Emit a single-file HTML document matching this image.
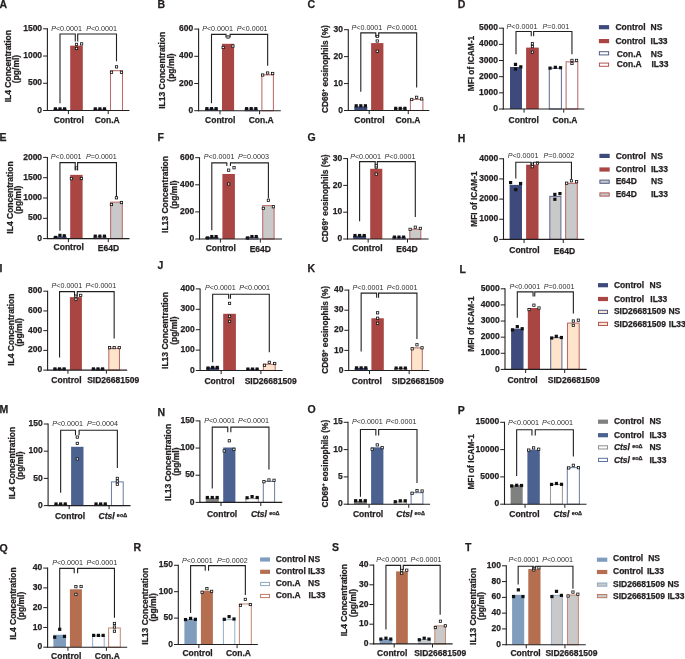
<!DOCTYPE html>
<html><head><meta charset="utf-8"><style>
html,body{margin:0;padding:0;background:#fff;}
svg{display:block;will-change:transform;}
text{font-family:"Liberation Sans", sans-serif;}
text.b{stroke:#231f20;stroke-width:0.25px;}
</style></head><body>
<svg width="685" height="659" viewBox="0 0 685 659">
<rect width="685" height="659" fill="#fff"/>
<text class="b" x="-0.60" y="7.60" text-anchor="start" fill="#231f20" style="font-size:10.5px;font-weight:bold;" >A</text>
<rect x="53.40" y="108.87" width="13.20" height="1.63" fill="#3d4a7b"/>
<rect x="70.20" y="45.68" width="12.60" height="64.82" fill="#a94643"/>
<rect x="93.90" y="109.37" width="12.00" height="1.13" fill="#fff" stroke="#646e95" stroke-width="1.05"/>
<rect x="110.50" y="70.69" width="12.00" height="39.81" fill="#fff" stroke="#ba6b69" stroke-width="1.05"/>
<rect x="53.80" y="107.27" width="3.2" height="3.2" fill="#111"/>
<rect x="58.40" y="107.27" width="3.2" height="3.2" fill="#111"/>
<rect x="63.00" y="107.27" width="3.2" height="3.2" fill="#111"/>
<rect x="75.35" y="47.31" width="2.3" height="2.3" fill="#fff" stroke="#111" stroke-width="0.8"/>
<rect x="75.35" y="43.23" width="2.3" height="2.3" fill="#fff" stroke="#111" stroke-width="0.8"/>
<rect x="80.45" y="42.74" width="2.3" height="2.3" fill="#fff" stroke="#111" stroke-width="0.8"/>
<rect x="93.70" y="107.27" width="3.2" height="3.2" fill="#111"/>
<rect x="98.30" y="107.27" width="3.2" height="3.2" fill="#111"/>
<rect x="102.90" y="107.27" width="3.2" height="3.2" fill="#111"/>
<rect x="110.35" y="71.11" width="2.3" height="2.3" fill="#fff" stroke="#111" stroke-width="0.8"/>
<rect x="115.35" y="65.72" width="2.3" height="2.3" fill="#fff" stroke="#111" stroke-width="0.8"/>
<rect x="120.35" y="71.11" width="2.3" height="2.3" fill="#fff" stroke="#111" stroke-width="0.8"/>
<line x1="47.40" y1="28.30" x2="47.40" y2="111.00" stroke="#231f20" stroke-width="1.1"/>
<line x1="46.90" y1="110.50" x2="129.50" y2="110.50" stroke="#231f20" stroke-width="1.1"/>
<line x1="43.10" y1="110.50" x2="47.40" y2="110.50" stroke="#231f20" stroke-width="1.0"/>
<text class="b" x="42.10" y="112.60" text-anchor="end" fill="#231f20" style="font-size:8.5px;font-weight:bold;" >0</text>
<line x1="43.10" y1="83.27" x2="47.40" y2="83.27" stroke="#231f20" stroke-width="1.0"/>
<text class="b" x="42.10" y="85.37" text-anchor="end" fill="#231f20" style="font-size:8.5px;font-weight:bold;" >500</text>
<line x1="43.10" y1="56.03" x2="47.40" y2="56.03" stroke="#231f20" stroke-width="1.0"/>
<text class="b" x="42.10" y="58.13" text-anchor="end" fill="#231f20" style="font-size:8.5px;font-weight:bold;" >1000</text>
<line x1="43.10" y1="28.80" x2="47.40" y2="28.80" stroke="#231f20" stroke-width="1.0"/>
<text class="b" x="42.10" y="30.90" text-anchor="end" fill="#231f20" style="font-size:8.5px;font-weight:bold;" >1500</text>
<line x1="68.40" y1="110.50" x2="68.40" y2="114.10" stroke="#231f20" stroke-width="1.0"/>
<line x1="108.20" y1="110.50" x2="108.20" y2="114.10" stroke="#231f20" stroke-width="1.0"/>
<text class="b" x="68.80" y="122.60" text-anchor="middle" fill="#231f20" style="font-size:8.5px;font-weight:bold;" >Control</text>
<text class="b" x="107.20" y="122.60" text-anchor="middle" fill="#231f20" style="font-size:8.5px;font-weight:bold;" >Con.A</text>
<text class="b" transform="translate(10.90,66.20) rotate(-90)" text-anchor="middle" fill="#231f20" style="font-size:8.5px;font-weight:bold">IL4 Concentration</text>
<text class="b" transform="translate(19.10,69.00) rotate(-90)" text-anchor="middle" fill="#231f20" style="font-size:8.5px;font-weight:bold">(pg/ml)</text>
<polyline points="60.00,103.37 60.00,34.00 75.30,34.00 75.30,41.40" fill="none" stroke="#231f20" stroke-width="1.1"/>
<polyline points="77.70,41.40 77.70,34.00 116.50,34.00 116.50,61.37" fill="none" stroke="#231f20" stroke-width="1.1"/>
<text x="51.20" y="30.50" fill="#2e2e2e" style="font-size:7.15px;font-weight:normal" letter-spacing="0"><tspan style="font-style:italic">P</tspan>&lt;0.0001</text>
<text x="86.20" y="30.50" fill="#2e2e2e" style="font-size:7.15px;font-weight:normal" letter-spacing="0"><tspan style="font-style:italic">P</tspan>&lt;0.0001</text>
<text class="b" x="157.60" y="7.60" text-anchor="start" fill="#231f20" style="font-size:10.5px;font-weight:bold;" >B</text>
<rect x="205.00" y="108.66" width="13.00" height="2.04" fill="#3d4a7b"/>
<rect x="222.00" y="43.79" width="12.10" height="66.91" fill="#a94643"/>
<rect x="245.10" y="109.16" width="12.20" height="1.54" fill="#fff" stroke="#646e95" stroke-width="1.05"/>
<rect x="261.90" y="74.89" width="11.50" height="35.81" fill="#fff" stroke="#ba6b69" stroke-width="1.05"/>
<rect x="205.30" y="107.06" width="3.2" height="3.2" fill="#111"/>
<rect x="209.90" y="107.06" width="3.2" height="3.2" fill="#111"/>
<rect x="214.50" y="107.06" width="3.2" height="3.2" fill="#111"/>
<rect x="222.00" y="46.31" width="2.3" height="2.3" fill="#fff" stroke="#111" stroke-width="0.8"/>
<rect x="226.90" y="35.84" width="2.3" height="2.3" fill="#fff" stroke="#111" stroke-width="0.8"/>
<rect x="231.75" y="44.95" width="2.3" height="2.3" fill="#fff" stroke="#111" stroke-width="0.8"/>
<rect x="245.00" y="107.06" width="3.2" height="3.2" fill="#111"/>
<rect x="249.60" y="107.06" width="3.2" height="3.2" fill="#111"/>
<rect x="254.20" y="107.06" width="3.2" height="3.2" fill="#111"/>
<rect x="261.50" y="73.85" width="2.3" height="2.3" fill="#fff" stroke="#111" stroke-width="0.8"/>
<rect x="266.50" y="71.88" width="2.3" height="2.3" fill="#fff" stroke="#111" stroke-width="0.8"/>
<rect x="271.50" y="72.35" width="2.3" height="2.3" fill="#fff" stroke="#111" stroke-width="0.8"/>
<line x1="198.60" y1="28.60" x2="198.60" y2="111.20" stroke="#231f20" stroke-width="1.1"/>
<line x1="198.10" y1="110.70" x2="280.80" y2="110.70" stroke="#231f20" stroke-width="1.1"/>
<line x1="194.30" y1="110.70" x2="198.60" y2="110.70" stroke="#231f20" stroke-width="1.0"/>
<text class="b" x="193.30" y="112.80" text-anchor="end" fill="#231f20" style="font-size:8.5px;font-weight:bold;" >0</text>
<line x1="194.30" y1="83.50" x2="198.60" y2="83.50" stroke="#231f20" stroke-width="1.0"/>
<text class="b" x="193.30" y="85.60" text-anchor="end" fill="#231f20" style="font-size:8.5px;font-weight:bold;" >200</text>
<line x1="194.30" y1="56.30" x2="198.60" y2="56.30" stroke="#231f20" stroke-width="1.0"/>
<text class="b" x="193.30" y="58.40" text-anchor="end" fill="#231f20" style="font-size:8.5px;font-weight:bold;" >400</text>
<line x1="194.30" y1="29.10" x2="198.60" y2="29.10" stroke="#231f20" stroke-width="1.0"/>
<text class="b" x="193.30" y="31.20" text-anchor="end" fill="#231f20" style="font-size:8.5px;font-weight:bold;" >600</text>
<line x1="220.00" y1="110.70" x2="220.00" y2="114.30" stroke="#231f20" stroke-width="1.0"/>
<line x1="259.60" y1="110.70" x2="259.60" y2="114.30" stroke="#231f20" stroke-width="1.0"/>
<text class="b" x="220.20" y="122.60" text-anchor="middle" fill="#231f20" style="font-size:8.5px;font-weight:bold;" >Control</text>
<text class="b" x="261.20" y="122.60" text-anchor="middle" fill="#231f20" style="font-size:8.5px;font-weight:bold;" >Con.A</text>
<text class="b" transform="translate(165.40,70.30) rotate(-90)" text-anchor="middle" fill="#231f20" style="font-size:8.5px;font-weight:bold">IL13 Concentration</text>
<text class="b" transform="translate(173.50,67.50) rotate(-90)" text-anchor="middle" fill="#231f20" style="font-size:8.5px;font-weight:bold">(pg/ml)</text>
<polyline points="211.50,103.16 211.50,34.40 226.00,34.40 226.00,37.60" fill="none" stroke="#231f20" stroke-width="1.1"/>
<polyline points="230.10,37.60 230.10,34.40 267.65,34.40 267.65,65.63" fill="none" stroke="#231f20" stroke-width="1.1"/>
<text x="202.20" y="30.50" fill="#2e2e2e" style="font-size:7.15px;font-weight:normal" letter-spacing="0"><tspan style="font-style:italic">P</tspan>&lt;0.0001</text>
<text x="236.80" y="30.50" fill="#2e2e2e" style="font-size:7.15px;font-weight:normal" letter-spacing="0"><tspan style="font-style:italic">P</tspan>&lt;0.0001</text>
<text class="b" x="307.60" y="7.60" text-anchor="start" fill="#231f20" style="font-size:10.5px;font-weight:bold;" >C</text>
<rect x="354.30" y="106.46" width="13.00" height="4.04" fill="#3d4a7b"/>
<rect x="371.10" y="43.09" width="12.30" height="67.41" fill="#a94643"/>
<rect x="394.50" y="108.85" width="11.60" height="1.65" fill="#fff" stroke="#646e95" stroke-width="1.05"/>
<rect x="410.40" y="99.42" width="12.50" height="11.08" fill="#fff" stroke="#ba6b69" stroke-width="1.05"/>
<rect x="354.60" y="104.19" width="3.2" height="3.2" fill="#111"/>
<rect x="359.20" y="104.19" width="3.2" height="3.2" fill="#111"/>
<rect x="363.80" y="104.19" width="3.2" height="3.2" fill="#111"/>
<rect x="376.10" y="50.10" width="2.3" height="2.3" fill="#fff" stroke="#111" stroke-width="0.8"/>
<rect x="376.10" y="39.86" width="2.3" height="2.3" fill="#fff" stroke="#111" stroke-width="0.8"/>
<rect x="376.10" y="35.28" width="2.3" height="2.3" fill="#fff" stroke="#111" stroke-width="0.8"/>
<rect x="394.10" y="106.75" width="3.2" height="3.2" fill="#111"/>
<rect x="398.70" y="106.75" width="3.2" height="3.2" fill="#111"/>
<rect x="403.30" y="106.75" width="3.2" height="3.2" fill="#111"/>
<rect x="410.60" y="98.31" width="2.3" height="2.3" fill="#fff" stroke="#111" stroke-width="0.8"/>
<rect x="415.50" y="96.15" width="2.3" height="2.3" fill="#fff" stroke="#111" stroke-width="0.8"/>
<rect x="420.50" y="97.77" width="2.3" height="2.3" fill="#fff" stroke="#111" stroke-width="0.8"/>
<line x1="348.30" y1="29.20" x2="348.30" y2="111.00" stroke="#231f20" stroke-width="1.1"/>
<line x1="347.80" y1="110.50" x2="429.30" y2="110.50" stroke="#231f20" stroke-width="1.1"/>
<line x1="344.00" y1="110.50" x2="348.30" y2="110.50" stroke="#231f20" stroke-width="1.0"/>
<text class="b" x="343.00" y="112.60" text-anchor="end" fill="#231f20" style="font-size:8.5px;font-weight:bold;" >0</text>
<line x1="344.00" y1="83.57" x2="348.30" y2="83.57" stroke="#231f20" stroke-width="1.0"/>
<text class="b" x="343.00" y="85.67" text-anchor="end" fill="#231f20" style="font-size:8.5px;font-weight:bold;" >10</text>
<line x1="344.00" y1="56.63" x2="348.30" y2="56.63" stroke="#231f20" stroke-width="1.0"/>
<text class="b" x="343.00" y="58.73" text-anchor="end" fill="#231f20" style="font-size:8.5px;font-weight:bold;" >20</text>
<line x1="344.00" y1="29.70" x2="348.30" y2="29.70" stroke="#231f20" stroke-width="1.0"/>
<text class="b" x="343.00" y="31.80" text-anchor="end" fill="#231f20" style="font-size:8.5px;font-weight:bold;" >30</text>
<line x1="369.20" y1="110.50" x2="369.20" y2="114.10" stroke="#231f20" stroke-width="1.0"/>
<line x1="408.25" y1="110.50" x2="408.25" y2="114.10" stroke="#231f20" stroke-width="1.0"/>
<text class="b" x="369.40" y="122.60" text-anchor="middle" fill="#231f20" style="font-size:8.5px;font-weight:bold;" >Control</text>
<text class="b" x="408.00" y="122.60" text-anchor="middle" fill="#231f20" style="font-size:8.5px;font-weight:bold;" >Con.A</text>
<text class="b" transform="translate(327.90,69.10) rotate(-90)" text-anchor="middle" fill="#231f20" style="font-size:8.3px;font-weight:bold">CD69<tspan dy="-3" style="font-size:5px">+</tspan><tspan dy="3"> eosinophils (%)</tspan></text>
<polyline points="360.80,91.79 360.80,32.90 375.80,32.90 375.80,37.10" fill="none" stroke="#231f20" stroke-width="1.1"/>
<polyline points="378.70,37.10 378.70,32.90 416.65,32.90 416.65,87.60" fill="none" stroke="#231f20" stroke-width="1.1"/>
<text x="351.50" y="29.50" fill="#2e2e2e" style="font-size:7.15px;font-weight:normal" letter-spacing="0"><tspan style="font-style:italic">P</tspan>&lt;0.0001</text>
<text x="386.80" y="29.50" fill="#2e2e2e" style="font-size:7.15px;font-weight:normal" letter-spacing="0"><tspan style="font-style:italic">P</tspan>&lt;0.0001</text>
<text class="b" x="457.80" y="7.60" text-anchor="start" fill="#231f20" style="font-size:10.5px;font-weight:bold;" >D</text>
<rect x="510.00" y="66.98" width="12.00" height="42.02" fill="#3d4a7b"/>
<rect x="526.10" y="47.59" width="12.70" height="61.41" fill="#a94643"/>
<rect x="549.30" y="68.29" width="12.10" height="40.71" fill="#fff" stroke="#646e95" stroke-width="1.05"/>
<rect x="566.10" y="61.83" width="11.70" height="47.17" fill="#fff" stroke="#ba6b69" stroke-width="1.05"/>
<rect x="513.90" y="62.80" width="3.2" height="3.2" fill="#111"/>
<rect x="513.90" y="67.48" width="3.2" height="3.2" fill="#111"/>
<rect x="519.20" y="65.22" width="3.2" height="3.2" fill="#111"/>
<rect x="531.30" y="51.05" width="2.3" height="2.3" fill="#fff" stroke="#111" stroke-width="0.8"/>
<rect x="531.30" y="45.46" width="2.3" height="2.3" fill="#fff" stroke="#111" stroke-width="0.8"/>
<rect x="531.30" y="42.55" width="2.3" height="2.3" fill="#fff" stroke="#111" stroke-width="0.8"/>
<rect x="548.45" y="66.52" width="3.2" height="3.2" fill="#111"/>
<rect x="553.75" y="65.71" width="3.2" height="3.2" fill="#111"/>
<rect x="558.95" y="66.11" width="3.2" height="3.2" fill="#111"/>
<rect x="570.80" y="62.34" width="2.3" height="2.3" fill="#fff" stroke="#111" stroke-width="0.8"/>
<rect x="570.80" y="59.26" width="2.3" height="2.3" fill="#fff" stroke="#111" stroke-width="0.8"/>
<rect x="575.40" y="59.26" width="2.3" height="2.3" fill="#fff" stroke="#111" stroke-width="0.8"/>
<line x1="503.30" y1="27.70" x2="503.30" y2="109.50" stroke="#231f20" stroke-width="1.1"/>
<line x1="502.80" y1="109.00" x2="584.30" y2="109.00" stroke="#231f20" stroke-width="1.1"/>
<line x1="499.00" y1="109.00" x2="503.30" y2="109.00" stroke="#231f20" stroke-width="1.0"/>
<text class="b" x="498.00" y="111.10" text-anchor="end" fill="#231f20" style="font-size:8.5px;font-weight:bold;" >0</text>
<line x1="499.00" y1="92.84" x2="503.30" y2="92.84" stroke="#231f20" stroke-width="1.0"/>
<text class="b" x="498.00" y="94.94" text-anchor="end" fill="#231f20" style="font-size:8.5px;font-weight:bold;" >1000</text>
<line x1="499.00" y1="76.68" x2="503.30" y2="76.68" stroke="#231f20" stroke-width="1.0"/>
<text class="b" x="498.00" y="78.78" text-anchor="end" fill="#231f20" style="font-size:8.5px;font-weight:bold;" >2000</text>
<line x1="499.00" y1="60.52" x2="503.30" y2="60.52" stroke="#231f20" stroke-width="1.0"/>
<text class="b" x="498.00" y="62.62" text-anchor="end" fill="#231f20" style="font-size:8.5px;font-weight:bold;" >3000</text>
<line x1="499.00" y1="44.36" x2="503.30" y2="44.36" stroke="#231f20" stroke-width="1.0"/>
<text class="b" x="498.00" y="46.46" text-anchor="end" fill="#231f20" style="font-size:8.5px;font-weight:bold;" >4000</text>
<line x1="499.00" y1="28.20" x2="503.30" y2="28.20" stroke="#231f20" stroke-width="1.0"/>
<text class="b" x="498.00" y="30.30" text-anchor="end" fill="#231f20" style="font-size:8.5px;font-weight:bold;" >5000</text>
<line x1="524.05" y1="109.00" x2="524.05" y2="112.60" stroke="#231f20" stroke-width="1.0"/>
<line x1="563.75" y1="109.00" x2="563.75" y2="112.60" stroke="#231f20" stroke-width="1.0"/>
<text class="b" x="523.70" y="122.60" text-anchor="middle" fill="#231f20" style="font-size:8.5px;font-weight:bold;" >Control</text>
<text class="b" x="564.90" y="122.60" text-anchor="middle" fill="#231f20" style="font-size:8.5px;font-weight:bold;" >Con.A</text>
<text class="b" transform="translate(474.00,63.60) rotate(-90)" text-anchor="middle" fill="#231f20" style="font-size:8.3px;font-weight:bold">MFI of ICAM-1</text>
<polyline points="516.00,54.20 516.00,31.50 531.25,31.50 531.25,36.20" fill="none" stroke="#231f20" stroke-width="1.1"/>
<polyline points="533.65,36.20 533.65,31.50 571.95,31.50 571.95,54.21" fill="none" stroke="#231f20" stroke-width="1.1"/>
<text x="506.60" y="29.00" fill="#2e2e2e" style="font-size:7.15px;font-weight:normal" letter-spacing="0"><tspan style="font-style:italic">P</tspan>&lt;0.0001</text>
<text x="542.50" y="29.00" fill="#2e2e2e" style="font-size:7.15px;font-weight:normal" letter-spacing="0"><tspan style="font-style:italic">P</tspan>=0.001</text>
<text class="b" x="-0.60" y="141.40" text-anchor="start" fill="#231f20" style="font-size:10.5px;font-weight:bold;" >E</text>
<rect x="53.30" y="236.57" width="13.30" height="2.03" fill="#3d4a7b"/>
<rect x="70.20" y="174.86" width="12.40" height="63.74" fill="#a94643"/>
<rect x="93.80" y="237.07" width="12.10" height="1.53" fill="#fff" stroke="#646e95" stroke-width="1.05"/>
<rect x="110.60" y="202.15" width="11.70" height="36.45" fill="#c9c9c9" stroke="#ba6b69" stroke-width="1.05"/>
<rect x="54.05" y="235.78" width="3.2" height="3.2" fill="#111"/>
<rect x="58.35" y="233.75" width="3.2" height="3.2" fill="#111"/>
<rect x="62.65" y="234.16" width="3.2" height="3.2" fill="#111"/>
<rect x="70.25" y="177.56" width="2.3" height="2.3" fill="#fff" stroke="#111" stroke-width="0.8"/>
<rect x="75.25" y="166.81" width="2.3" height="2.3" fill="#fff" stroke="#111" stroke-width="0.8"/>
<rect x="80.25" y="177.36" width="2.3" height="2.3" fill="#fff" stroke="#111" stroke-width="0.8"/>
<rect x="93.65" y="234.56" width="3.2" height="3.2" fill="#111"/>
<rect x="98.25" y="234.56" width="3.2" height="3.2" fill="#111"/>
<rect x="102.85" y="234.56" width="3.2" height="3.2" fill="#111"/>
<rect x="110.30" y="203.35" width="2.3" height="2.3" fill="#fff" stroke="#111" stroke-width="0.8"/>
<rect x="115.30" y="196.65" width="2.3" height="2.3" fill="#fff" stroke="#111" stroke-width="0.8"/>
<rect x="120.30" y="201.36" width="2.3" height="2.3" fill="#fff" stroke="#111" stroke-width="0.8"/>
<line x1="47.40" y1="156.90" x2="47.40" y2="239.10" stroke="#231f20" stroke-width="1.1"/>
<line x1="46.90" y1="238.60" x2="129.50" y2="238.60" stroke="#231f20" stroke-width="1.1"/>
<line x1="43.10" y1="238.60" x2="47.40" y2="238.60" stroke="#231f20" stroke-width="1.0"/>
<text class="b" x="42.10" y="240.70" text-anchor="end" fill="#231f20" style="font-size:8.5px;font-weight:bold;" >0</text>
<line x1="43.10" y1="218.30" x2="47.40" y2="218.30" stroke="#231f20" stroke-width="1.0"/>
<text class="b" x="42.10" y="220.40" text-anchor="end" fill="#231f20" style="font-size:8.5px;font-weight:bold;" >500</text>
<line x1="43.10" y1="198.00" x2="47.40" y2="198.00" stroke="#231f20" stroke-width="1.0"/>
<text class="b" x="42.10" y="200.10" text-anchor="end" fill="#231f20" style="font-size:8.5px;font-weight:bold;" >1000</text>
<line x1="43.10" y1="177.70" x2="47.40" y2="177.70" stroke="#231f20" stroke-width="1.0"/>
<text class="b" x="42.10" y="179.80" text-anchor="end" fill="#231f20" style="font-size:8.5px;font-weight:bold;" >1500</text>
<line x1="43.10" y1="157.40" x2="47.40" y2="157.40" stroke="#231f20" stroke-width="1.0"/>
<text class="b" x="42.10" y="159.50" text-anchor="end" fill="#231f20" style="font-size:8.5px;font-weight:bold;" >2000</text>
<line x1="68.40" y1="238.60" x2="68.40" y2="242.20" stroke="#231f20" stroke-width="1.0"/>
<line x1="108.25" y1="238.60" x2="108.25" y2="242.20" stroke="#231f20" stroke-width="1.0"/>
<text class="b" x="68.70" y="249.60" text-anchor="middle" fill="#231f20" style="font-size:8.5px;font-weight:bold;" >Control</text>
<text class="b" x="108.40" y="251.10" text-anchor="middle" fill="#231f20" style="font-size:8.5px;font-weight:bold;" >E64D</text>
<text class="b" transform="translate(13.00,197.50) rotate(-90)" text-anchor="middle" fill="#231f20" style="font-size:8.5px;font-weight:bold">IL4 Concentration</text>
<text class="b" transform="translate(21.30,199.80) rotate(-90)" text-anchor="middle" fill="#231f20" style="font-size:8.5px;font-weight:bold">(pg/ml)</text>
<polyline points="59.95,230.75 59.95,162.60 75.20,162.60 75.20,170.40" fill="none" stroke="#231f20" stroke-width="1.1"/>
<polyline points="77.60,170.40 77.60,162.60 116.45,162.60 116.45,196.70" fill="none" stroke="#231f20" stroke-width="1.1"/>
<text x="50.80" y="158.80" fill="#2e2e2e" style="font-size:7.15px;font-weight:normal" letter-spacing="0"><tspan style="font-style:italic">P</tspan>&lt;0.0001</text>
<text x="86.00" y="158.80" fill="#2e2e2e" style="font-size:7.15px;font-weight:normal" letter-spacing="0"><tspan style="font-style:italic">P</tspan>=0.0001</text>
<text class="b" x="157.60" y="141.20" text-anchor="start" fill="#231f20" style="font-size:10.5px;font-weight:bold;" >F</text>
<rect x="205.20" y="236.97" width="13.20" height="2.03" fill="#3d4a7b"/>
<rect x="222.40" y="173.96" width="12.50" height="65.04" fill="#a94643"/>
<rect x="245.90" y="237.47" width="12.10" height="1.53" fill="#fff" stroke="#646e95" stroke-width="1.05"/>
<rect x="262.70" y="205.62" width="11.40" height="33.38" fill="#c9c9c9" stroke="#ba6b69" stroke-width="1.05"/>
<rect x="205.90" y="236.32" width="3.2" height="3.2" fill="#111"/>
<rect x="210.20" y="234.96" width="3.2" height="3.2" fill="#111"/>
<rect x="214.50" y="234.96" width="3.2" height="3.2" fill="#111"/>
<rect x="227.50" y="182.84" width="2.3" height="2.3" fill="#fff" stroke="#111" stroke-width="0.8"/>
<rect x="227.50" y="169.02" width="2.3" height="2.3" fill="#fff" stroke="#111" stroke-width="0.8"/>
<rect x="232.90" y="166.58" width="2.3" height="2.3" fill="#fff" stroke="#111" stroke-width="0.8"/>
<rect x="246.05" y="236.32" width="3.2" height="3.2" fill="#111"/>
<rect x="250.35" y="234.96" width="3.2" height="3.2" fill="#111"/>
<rect x="254.65" y="234.96" width="3.2" height="3.2" fill="#111"/>
<rect x="262.15" y="207.23" width="2.3" height="2.3" fill="#fff" stroke="#111" stroke-width="0.8"/>
<rect x="267.25" y="199.10" width="2.3" height="2.3" fill="#fff" stroke="#111" stroke-width="0.8"/>
<rect x="272.25" y="205.60" width="2.3" height="2.3" fill="#fff" stroke="#111" stroke-width="0.8"/>
<line x1="199.50" y1="157.20" x2="199.50" y2="239.50" stroke="#231f20" stroke-width="1.1"/>
<line x1="199.00" y1="239.00" x2="281.90" y2="239.00" stroke="#231f20" stroke-width="1.1"/>
<line x1="195.20" y1="239.00" x2="199.50" y2="239.00" stroke="#231f20" stroke-width="1.0"/>
<text class="b" x="194.20" y="241.10" text-anchor="end" fill="#231f20" style="font-size:8.5px;font-weight:bold;" >0</text>
<line x1="195.20" y1="211.90" x2="199.50" y2="211.90" stroke="#231f20" stroke-width="1.0"/>
<text class="b" x="194.20" y="214.00" text-anchor="end" fill="#231f20" style="font-size:8.5px;font-weight:bold;" >200</text>
<line x1="195.20" y1="184.80" x2="199.50" y2="184.80" stroke="#231f20" stroke-width="1.0"/>
<text class="b" x="194.20" y="186.90" text-anchor="end" fill="#231f20" style="font-size:8.5px;font-weight:bold;" >400</text>
<line x1="195.20" y1="157.70" x2="199.50" y2="157.70" stroke="#231f20" stroke-width="1.0"/>
<text class="b" x="194.20" y="159.80" text-anchor="end" fill="#231f20" style="font-size:8.5px;font-weight:bold;" >600</text>
<line x1="220.40" y1="239.00" x2="220.40" y2="242.60" stroke="#231f20" stroke-width="1.0"/>
<line x1="260.35" y1="239.00" x2="260.35" y2="242.60" stroke="#231f20" stroke-width="1.0"/>
<text class="b" x="220.80" y="250.60" text-anchor="middle" fill="#231f20" style="font-size:8.5px;font-weight:bold;" >Control</text>
<text class="b" x="260.30" y="251.60" text-anchor="middle" fill="#231f20" style="font-size:8.5px;font-weight:bold;" >E64D</text>
<text class="b" transform="translate(168.40,194.50) rotate(-90)" text-anchor="middle" fill="#231f20" style="font-size:8.5px;font-weight:bold">IL13 Concentration</text>
<text class="b" transform="translate(176.50,194.60) rotate(-90)" text-anchor="middle" fill="#231f20" style="font-size:8.5px;font-weight:bold">(pg/ml)</text>
<polyline points="211.80,230.16 211.80,162.90 226.85,162.90 226.85,165.90" fill="none" stroke="#231f20" stroke-width="1.1"/>
<polyline points="230.45,165.90 230.45,162.90 268.40,162.90 268.40,198.15" fill="none" stroke="#231f20" stroke-width="1.1"/>
<text x="203.70" y="159.20" fill="#2e2e2e" style="font-size:7.15px;font-weight:normal" letter-spacing="0"><tspan style="font-style:italic">P</tspan>&lt;0.0001</text>
<text x="238.10" y="159.20" fill="#2e2e2e" style="font-size:7.15px;font-weight:normal" letter-spacing="0"><tspan style="font-style:italic">P</tspan>=0.0003</text>
<text class="b" x="307.60" y="141.20" text-anchor="start" fill="#231f20" style="font-size:10.5px;font-weight:bold;" >G</text>
<rect x="353.10" y="235.78" width="13.00" height="3.22" fill="#3d4a7b"/>
<rect x="370.20" y="168.78" width="12.10" height="70.22" fill="#a94643"/>
<rect x="392.80" y="237.36" width="12.40" height="1.64" fill="#fff" stroke="#646e95" stroke-width="1.05"/>
<rect x="409.80" y="229.32" width="11.00" height="9.68" fill="#c9c9c9" stroke="#ba6b69" stroke-width="1.05"/>
<rect x="353.40" y="233.92" width="3.2" height="3.2" fill="#111"/>
<rect x="358.00" y="233.92" width="3.2" height="3.2" fill="#111"/>
<rect x="362.60" y="233.92" width="3.2" height="3.2" fill="#111"/>
<rect x="375.10" y="172.99" width="2.3" height="2.3" fill="#fff" stroke="#111" stroke-width="0.8"/>
<rect x="375.10" y="166.03" width="2.3" height="2.3" fill="#fff" stroke="#111" stroke-width="0.8"/>
<rect x="375.10" y="164.69" width="2.3" height="2.3" fill="#fff" stroke="#111" stroke-width="0.8"/>
<rect x="392.80" y="235.52" width="3.2" height="3.2" fill="#111"/>
<rect x="397.40" y="235.52" width="3.2" height="3.2" fill="#111"/>
<rect x="402.00" y="235.52" width="3.2" height="3.2" fill="#111"/>
<rect x="408.95" y="228.20" width="2.3" height="2.3" fill="#fff" stroke="#111" stroke-width="0.8"/>
<rect x="414.15" y="226.06" width="2.3" height="2.3" fill="#fff" stroke="#111" stroke-width="0.8"/>
<rect x="419.25" y="227.26" width="2.3" height="2.3" fill="#fff" stroke="#111" stroke-width="0.8"/>
<line x1="347.50" y1="158.10" x2="347.50" y2="239.50" stroke="#231f20" stroke-width="1.1"/>
<line x1="347.00" y1="239.00" x2="428.60" y2="239.00" stroke="#231f20" stroke-width="1.1"/>
<line x1="343.20" y1="239.00" x2="347.50" y2="239.00" stroke="#231f20" stroke-width="1.0"/>
<text class="b" x="342.20" y="241.10" text-anchor="end" fill="#231f20" style="font-size:8.5px;font-weight:bold;" >0</text>
<line x1="343.20" y1="212.20" x2="347.50" y2="212.20" stroke="#231f20" stroke-width="1.0"/>
<text class="b" x="342.20" y="214.30" text-anchor="end" fill="#231f20" style="font-size:8.5px;font-weight:bold;" >10</text>
<line x1="343.20" y1="185.40" x2="347.50" y2="185.40" stroke="#231f20" stroke-width="1.0"/>
<text class="b" x="342.20" y="187.50" text-anchor="end" fill="#231f20" style="font-size:8.5px;font-weight:bold;" >20</text>
<line x1="343.20" y1="158.60" x2="347.50" y2="158.60" stroke="#231f20" stroke-width="1.0"/>
<text class="b" x="342.20" y="160.70" text-anchor="end" fill="#231f20" style="font-size:8.5px;font-weight:bold;" >30</text>
<line x1="368.15" y1="239.00" x2="368.15" y2="242.60" stroke="#231f20" stroke-width="1.0"/>
<line x1="407.50" y1="239.00" x2="407.50" y2="242.60" stroke="#231f20" stroke-width="1.0"/>
<text class="b" x="367.40" y="250.90" text-anchor="middle" fill="#231f20" style="font-size:8.5px;font-weight:bold;" >Control</text>
<text class="b" x="407.00" y="251.60" text-anchor="middle" fill="#231f20" style="font-size:8.5px;font-weight:bold;" >E64D</text>
<text class="b" transform="translate(327.50,198.30) rotate(-90)" text-anchor="middle" fill="#231f20" style="font-size:8.3px;font-weight:bold">CD69<tspan dy="-3" style="font-size:5px">+</tspan><tspan dy="3"> eosinophils (%)</tspan></text>
<polyline points="359.60,221.32 359.60,161.60 375.20,161.60 375.20,165.30" fill="none" stroke="#231f20" stroke-width="1.1"/>
<polyline points="377.30,165.30 377.30,161.60 415.30,161.60 415.30,216.91" fill="none" stroke="#231f20" stroke-width="1.1"/>
<text x="350.20" y="158.80" fill="#2e2e2e" style="font-size:7.15px;font-weight:normal" letter-spacing="0"><tspan style="font-style:italic">P</tspan>&lt;0.0001</text>
<text x="384.60" y="158.80" fill="#2e2e2e" style="font-size:7.15px;font-weight:normal" letter-spacing="0"><tspan style="font-style:italic">P</tspan>&lt;0.0001</text>
<text class="b" x="457.80" y="142.00" text-anchor="start" fill="#231f20" style="font-size:10.5px;font-weight:bold;" >H</text>
<rect x="509.60" y="184.89" width="12.40" height="54.51" fill="#3d4a7b"/>
<rect x="526.10" y="164.70" width="12.40" height="74.70" fill="#a94643"/>
<rect x="549.80" y="196.40" width="11.10" height="43.00" fill="#c9c9c9" stroke="#646e95" stroke-width="1.05"/>
<rect x="565.60" y="183.40" width="11.70" height="56.00" fill="#c9c9c9" stroke="#ba6b69" stroke-width="1.05"/>
<rect x="509.00" y="181.00" width="3.2" height="3.2" fill="#111"/>
<rect x="514.20" y="188.01" width="3.2" height="3.2" fill="#111"/>
<rect x="519.00" y="181.90" width="3.2" height="3.2" fill="#111"/>
<rect x="531.15" y="165.55" width="2.3" height="2.3" fill="#fff" stroke="#111" stroke-width="0.8"/>
<rect x="531.15" y="162.95" width="2.3" height="2.3" fill="#fff" stroke="#111" stroke-width="0.8"/>
<rect x="536.35" y="161.94" width="2.3" height="2.3" fill="#fff" stroke="#111" stroke-width="0.8"/>
<rect x="553.25" y="197.70" width="3.2" height="3.2" fill="#111"/>
<rect x="553.25" y="192.81" width="3.2" height="3.2" fill="#111"/>
<rect x="558.35" y="192.00" width="3.2" height="3.2" fill="#111"/>
<rect x="565.50" y="182.05" width="2.3" height="2.3" fill="#fff" stroke="#111" stroke-width="0.8"/>
<rect x="570.30" y="179.65" width="2.3" height="2.3" fill="#fff" stroke="#111" stroke-width="0.8"/>
<rect x="575.40" y="180.54" width="2.3" height="2.3" fill="#fff" stroke="#111" stroke-width="0.8"/>
<line x1="503.50" y1="158.30" x2="503.50" y2="239.90" stroke="#231f20" stroke-width="1.1"/>
<line x1="503.00" y1="239.40" x2="584.30" y2="239.40" stroke="#231f20" stroke-width="1.1"/>
<line x1="499.20" y1="239.40" x2="503.50" y2="239.40" stroke="#231f20" stroke-width="1.0"/>
<text class="b" x="498.20" y="241.50" text-anchor="end" fill="#231f20" style="font-size:8.5px;font-weight:bold;" >0</text>
<line x1="499.20" y1="219.25" x2="503.50" y2="219.25" stroke="#231f20" stroke-width="1.0"/>
<text class="b" x="498.20" y="221.35" text-anchor="end" fill="#231f20" style="font-size:8.5px;font-weight:bold;" >1000</text>
<line x1="499.20" y1="199.10" x2="503.50" y2="199.10" stroke="#231f20" stroke-width="1.0"/>
<text class="b" x="498.20" y="201.20" text-anchor="end" fill="#231f20" style="font-size:8.5px;font-weight:bold;" >2000</text>
<line x1="499.20" y1="178.95" x2="503.50" y2="178.95" stroke="#231f20" stroke-width="1.0"/>
<text class="b" x="498.20" y="181.05" text-anchor="end" fill="#231f20" style="font-size:8.5px;font-weight:bold;" >3000</text>
<line x1="499.20" y1="158.80" x2="503.50" y2="158.80" stroke="#231f20" stroke-width="1.0"/>
<text class="b" x="498.20" y="160.90" text-anchor="end" fill="#231f20" style="font-size:8.5px;font-weight:bold;" >4000</text>
<line x1="524.05" y1="239.40" x2="524.05" y2="243.00" stroke="#231f20" stroke-width="1.0"/>
<line x1="563.25" y1="239.40" x2="563.25" y2="243.00" stroke="#231f20" stroke-width="1.0"/>
<text class="b" x="524.40" y="252.50" text-anchor="middle" fill="#231f20" style="font-size:8.5px;font-weight:bold;" >Control</text>
<text class="b" x="564.50" y="254.00" text-anchor="middle" fill="#231f20" style="font-size:8.5px;font-weight:bold;" >E64D</text>
<text class="b" transform="translate(476.80,199.00) rotate(-90)" text-anchor="middle" fill="#231f20" style="font-size:8.3px;font-weight:bold">MFI of ICAM-1</text>
<polyline points="515.80,178.60 515.80,162.20 531.10,162.20 531.10,165.00" fill="none" stroke="#231f20" stroke-width="1.1"/>
<polyline points="533.50,165.00 533.50,162.20 571.45,162.20 571.45,179.60" fill="none" stroke="#231f20" stroke-width="1.1"/>
<text x="507.70" y="157.70" fill="#2e2e2e" style="font-size:7.15px;font-weight:normal" letter-spacing="0"><tspan style="font-style:italic">P</tspan>&lt;0.0001</text>
<text x="543.50" y="157.70" fill="#2e2e2e" style="font-size:7.15px;font-weight:normal" letter-spacing="0"><tspan style="font-style:italic">P</tspan>=0.0002</text>
<text class="b" x="-0.60" y="272.00" text-anchor="start" fill="#231f20" style="font-size:10.5px;font-weight:bold;" >I</text>
<rect x="53.10" y="368.62" width="12.90" height="1.48" fill="#3d4a7b"/>
<rect x="69.90" y="297.12" width="12.00" height="72.98" fill="#a94643"/>
<rect x="92.00" y="369.12" width="12.00" height="0.98" fill="#fde4ca" stroke="#646e95" stroke-width="1.05"/>
<rect x="108.80" y="348.41" width="10.70" height="21.69" fill="#fde4ca" stroke="#ba6b69" stroke-width="1.05"/>
<rect x="53.35" y="367.32" width="3.2" height="3.2" fill="#111"/>
<rect x="57.95" y="367.32" width="3.2" height="3.2" fill="#111"/>
<rect x="62.55" y="367.32" width="3.2" height="3.2" fill="#111"/>
<rect x="74.75" y="298.04" width="2.3" height="2.3" fill="#fff" stroke="#111" stroke-width="0.8"/>
<rect x="74.75" y="294.98" width="2.3" height="2.3" fill="#fff" stroke="#111" stroke-width="0.8"/>
<rect x="79.55" y="294.29" width="2.3" height="2.3" fill="#fff" stroke="#111" stroke-width="0.8"/>
<rect x="91.80" y="367.32" width="3.2" height="3.2" fill="#111"/>
<rect x="96.40" y="367.32" width="3.2" height="3.2" fill="#111"/>
<rect x="101.00" y="367.32" width="3.2" height="3.2" fill="#111"/>
<rect x="108.40" y="346.56" width="2.3" height="2.3" fill="#fff" stroke="#111" stroke-width="0.8"/>
<rect x="113.00" y="346.46" width="2.3" height="2.3" fill="#fff" stroke="#111" stroke-width="0.8"/>
<rect x="118.10" y="346.46" width="2.3" height="2.3" fill="#fff" stroke="#111" stroke-width="0.8"/>
<line x1="47.60" y1="290.70" x2="47.60" y2="370.60" stroke="#231f20" stroke-width="1.1"/>
<line x1="47.10" y1="370.10" x2="127.20" y2="370.10" stroke="#231f20" stroke-width="1.1"/>
<line x1="43.30" y1="370.10" x2="47.60" y2="370.10" stroke="#231f20" stroke-width="1.0"/>
<text class="b" x="42.30" y="372.20" text-anchor="end" fill="#231f20" style="font-size:8.5px;font-weight:bold;" >0</text>
<line x1="43.30" y1="350.38" x2="47.60" y2="350.38" stroke="#231f20" stroke-width="1.0"/>
<text class="b" x="42.30" y="352.48" text-anchor="end" fill="#231f20" style="font-size:8.5px;font-weight:bold;" >200</text>
<line x1="43.30" y1="330.65" x2="47.60" y2="330.65" stroke="#231f20" stroke-width="1.0"/>
<text class="b" x="42.30" y="332.75" text-anchor="end" fill="#231f20" style="font-size:8.5px;font-weight:bold;" >400</text>
<line x1="43.30" y1="310.93" x2="47.60" y2="310.93" stroke="#231f20" stroke-width="1.0"/>
<text class="b" x="42.30" y="313.03" text-anchor="end" fill="#231f20" style="font-size:8.5px;font-weight:bold;" >600</text>
<line x1="43.30" y1="291.20" x2="47.60" y2="291.20" stroke="#231f20" stroke-width="1.0"/>
<text class="b" x="42.30" y="293.30" text-anchor="end" fill="#231f20" style="font-size:8.5px;font-weight:bold;" >800</text>
<line x1="67.95" y1="370.10" x2="67.95" y2="373.70" stroke="#231f20" stroke-width="1.0"/>
<line x1="106.40" y1="370.10" x2="106.40" y2="373.70" stroke="#231f20" stroke-width="1.0"/>
<text class="b" x="66.45" y="383.30" text-anchor="middle" fill="#231f20" style="font-size:8.5px;font-weight:bold;" >Control</text>
<text class="b" transform="translate(13.70,329.70) rotate(-90)" text-anchor="middle" fill="#231f20" style="font-size:8.5px;font-weight:bold">IL4 Concentration</text>
<text class="b" transform="translate(22.20,332.30) rotate(-90)" text-anchor="middle" fill="#231f20" style="font-size:8.5px;font-weight:bold">(pg/ml)</text>
<polyline points="59.55,357.42 59.55,291.60 74.55,291.60 74.55,296.60" fill="none" stroke="#231f20" stroke-width="1.1"/>
<polyline points="77.25,296.60 77.25,291.60 114.15,291.60 114.15,338.51" fill="none" stroke="#231f20" stroke-width="1.1"/>
<text x="51.50" y="288.10" fill="#2e2e2e" style="font-size:7.15px;font-weight:normal" letter-spacing="0"><tspan style="font-style:italic">P</tspan>&lt;0.0001</text>
<text x="85.50" y="288.10" fill="#2e2e2e" style="font-size:7.15px;font-weight:normal" letter-spacing="0"><tspan style="font-style:italic">P</tspan>&lt;0.0001</text>
<text class="b" x="157.60" y="268.80" text-anchor="start" fill="#231f20" style="font-size:10.5px;font-weight:bold;" >J</text>
<rect x="206.20" y="367.44" width="12.90" height="3.06" fill="#3d4a7b"/>
<rect x="223.20" y="313.79" width="12.70" height="56.71" fill="#a94643"/>
<rect x="246.60" y="369.37" width="11.80" height="1.13" fill="#fde4ca" stroke="#646e95" stroke-width="1.05"/>
<rect x="263.40" y="364.27" width="11.80" height="6.23" fill="#fde4ca" stroke="#ba6b69" stroke-width="1.05"/>
<rect x="206.45" y="366.45" width="3.2" height="3.2" fill="#111"/>
<rect x="211.05" y="365.84" width="3.2" height="3.2" fill="#111"/>
<rect x="215.65" y="365.84" width="3.2" height="3.2" fill="#111"/>
<rect x="228.40" y="320.19" width="2.3" height="2.3" fill="#fff" stroke="#111" stroke-width="0.8"/>
<rect x="228.40" y="315.09" width="2.3" height="2.3" fill="#fff" stroke="#111" stroke-width="0.8"/>
<rect x="228.40" y="302.23" width="2.3" height="2.3" fill="#fff" stroke="#111" stroke-width="0.8"/>
<rect x="246.30" y="367.47" width="3.2" height="3.2" fill="#111"/>
<rect x="250.90" y="367.47" width="3.2" height="3.2" fill="#111"/>
<rect x="255.50" y="367.47" width="3.2" height="3.2" fill="#111"/>
<rect x="263.35" y="364.15" width="2.3" height="2.3" fill="#fff" stroke="#111" stroke-width="0.8"/>
<rect x="268.15" y="361.19" width="2.3" height="2.3" fill="#fff" stroke="#111" stroke-width="0.8"/>
<rect x="273.55" y="362.35" width="2.3" height="2.3" fill="#fff" stroke="#111" stroke-width="0.8"/>
<line x1="200.10" y1="288.40" x2="200.10" y2="371.00" stroke="#231f20" stroke-width="1.1"/>
<line x1="199.60" y1="370.50" x2="282.60" y2="370.50" stroke="#231f20" stroke-width="1.1"/>
<line x1="195.80" y1="370.50" x2="200.10" y2="370.50" stroke="#231f20" stroke-width="1.0"/>
<text class="b" x="194.80" y="372.60" text-anchor="end" fill="#231f20" style="font-size:8.5px;font-weight:bold;" >0</text>
<line x1="195.80" y1="350.10" x2="200.10" y2="350.10" stroke="#231f20" stroke-width="1.0"/>
<text class="b" x="194.80" y="352.20" text-anchor="end" fill="#231f20" style="font-size:8.5px;font-weight:bold;" >100</text>
<line x1="195.80" y1="329.70" x2="200.10" y2="329.70" stroke="#231f20" stroke-width="1.0"/>
<text class="b" x="194.80" y="331.80" text-anchor="end" fill="#231f20" style="font-size:8.5px;font-weight:bold;" >200</text>
<line x1="195.80" y1="309.30" x2="200.10" y2="309.30" stroke="#231f20" stroke-width="1.0"/>
<text class="b" x="194.80" y="311.40" text-anchor="end" fill="#231f20" style="font-size:8.5px;font-weight:bold;" >300</text>
<line x1="195.80" y1="288.90" x2="200.10" y2="288.90" stroke="#231f20" stroke-width="1.0"/>
<text class="b" x="194.80" y="291.00" text-anchor="end" fill="#231f20" style="font-size:8.5px;font-weight:bold;" >400</text>
<line x1="221.15" y1="370.50" x2="221.15" y2="374.10" stroke="#231f20" stroke-width="1.0"/>
<line x1="260.90" y1="370.50" x2="260.90" y2="374.10" stroke="#231f20" stroke-width="1.0"/>
<text class="b" x="219.50" y="383.70" text-anchor="middle" fill="#231f20" style="font-size:8.5px;font-weight:bold;" >Control</text>
<text class="b" transform="translate(167.70,330.50) rotate(-90)" text-anchor="middle" fill="#231f20" style="font-size:8.5px;font-weight:bold">IL13 Concentration</text>
<text class="b" transform="translate(176.50,330.70) rotate(-90)" text-anchor="middle" fill="#231f20" style="font-size:8.5px;font-weight:bold">(pg/ml)</text>
<polyline points="212.65,362.34 212.65,294.30 228.65,294.30 228.65,298.70" fill="none" stroke="#231f20" stroke-width="1.1"/>
<polyline points="230.45,298.70 230.45,294.30 269.30,294.30 269.30,352.34" fill="none" stroke="#231f20" stroke-width="1.1"/>
<text x="205.00" y="289.60" fill="#2e2e2e" style="font-size:7.15px;font-weight:normal" letter-spacing="0"><tspan style="font-style:italic">P</tspan>&lt;0.0001</text>
<text x="239.20" y="289.60" fill="#2e2e2e" style="font-size:7.15px;font-weight:normal" letter-spacing="0"><tspan style="font-style:italic">P</tspan>&lt;0.0001</text>
<text class="b" x="307.60" y="272.40" text-anchor="start" fill="#231f20" style="font-size:10.5px;font-weight:bold;" >K</text>
<rect x="354.60" y="367.89" width="13.10" height="2.61" fill="#3d4a7b"/>
<rect x="371.40" y="318.24" width="12.40" height="52.26" fill="#a94643"/>
<rect x="394.80" y="368.59" width="11.90" height="1.91" fill="#fde4ca" stroke="#646e95" stroke-width="1.05"/>
<rect x="411.60" y="347.88" width="10.70" height="22.62" fill="#fde4ca" stroke="#ba6b69" stroke-width="1.05"/>
<rect x="354.95" y="366.29" width="3.2" height="3.2" fill="#111"/>
<rect x="359.55" y="366.29" width="3.2" height="3.2" fill="#111"/>
<rect x="364.15" y="366.29" width="3.2" height="3.2" fill="#111"/>
<rect x="376.45" y="322.12" width="2.3" height="2.3" fill="#fff" stroke="#111" stroke-width="0.8"/>
<rect x="376.45" y="317.09" width="2.3" height="2.3" fill="#fff" stroke="#111" stroke-width="0.8"/>
<rect x="376.45" y="311.66" width="2.3" height="2.3" fill="#fff" stroke="#111" stroke-width="0.8"/>
<rect x="394.55" y="366.49" width="3.2" height="3.2" fill="#111"/>
<rect x="399.15" y="366.49" width="3.2" height="3.2" fill="#111"/>
<rect x="403.75" y="366.49" width="3.2" height="3.2" fill="#111"/>
<rect x="411.00" y="347.64" width="2.3" height="2.3" fill="#fff" stroke="#111" stroke-width="0.8"/>
<rect x="415.80" y="343.62" width="2.3" height="2.3" fill="#fff" stroke="#111" stroke-width="0.8"/>
<rect x="420.90" y="346.64" width="2.3" height="2.3" fill="#fff" stroke="#111" stroke-width="0.8"/>
<line x1="348.70" y1="289.60" x2="348.70" y2="371.00" stroke="#231f20" stroke-width="1.1"/>
<line x1="348.20" y1="370.50" x2="429.30" y2="370.50" stroke="#231f20" stroke-width="1.1"/>
<line x1="344.40" y1="370.50" x2="348.70" y2="370.50" stroke="#231f20" stroke-width="1.0"/>
<text class="b" x="343.40" y="372.60" text-anchor="end" fill="#231f20" style="font-size:8.5px;font-weight:bold;" >0</text>
<line x1="344.40" y1="350.40" x2="348.70" y2="350.40" stroke="#231f20" stroke-width="1.0"/>
<text class="b" x="343.40" y="352.50" text-anchor="end" fill="#231f20" style="font-size:8.5px;font-weight:bold;" >10</text>
<line x1="344.40" y1="330.30" x2="348.70" y2="330.30" stroke="#231f20" stroke-width="1.0"/>
<text class="b" x="343.40" y="332.40" text-anchor="end" fill="#231f20" style="font-size:8.5px;font-weight:bold;" >20</text>
<line x1="344.40" y1="310.20" x2="348.70" y2="310.20" stroke="#231f20" stroke-width="1.0"/>
<text class="b" x="343.40" y="312.30" text-anchor="end" fill="#231f20" style="font-size:8.5px;font-weight:bold;" >30</text>
<line x1="344.40" y1="290.10" x2="348.70" y2="290.10" stroke="#231f20" stroke-width="1.0"/>
<text class="b" x="343.40" y="292.20" text-anchor="end" fill="#231f20" style="font-size:8.5px;font-weight:bold;" >40</text>
<line x1="369.55" y1="370.50" x2="369.55" y2="374.10" stroke="#231f20" stroke-width="1.0"/>
<line x1="409.15" y1="370.50" x2="409.15" y2="374.10" stroke="#231f20" stroke-width="1.0"/>
<text class="b" x="366.80" y="383.60" text-anchor="middle" fill="#231f20" style="font-size:8.5px;font-weight:bold;" >Control</text>
<text class="b" transform="translate(327.50,329.80) rotate(-90)" text-anchor="middle" fill="#231f20" style="font-size:8.3px;font-weight:bold">CD69<tspan dy="-3" style="font-size:5px">+</tspan><tspan dy="3"> eosinophils (%)</tspan></text>
<polyline points="361.15,351.39 361.15,293.10 376.65,293.10 376.65,297.70" fill="none" stroke="#231f20" stroke-width="1.1"/>
<polyline points="378.55,297.70 378.55,293.10 416.95,293.10 416.95,338.97" fill="none" stroke="#231f20" stroke-width="1.1"/>
<text x="352.60" y="289.50" fill="#2e2e2e" style="font-size:7.15px;font-weight:normal" letter-spacing="0"><tspan style="font-style:italic">P</tspan>&lt;0.0001</text>
<text x="386.70" y="289.50" fill="#2e2e2e" style="font-size:7.15px;font-weight:normal" letter-spacing="0"><tspan style="font-style:italic">P</tspan>&lt;0.0001</text>
<text class="b" x="459.60" y="273.40" text-anchor="start" fill="#231f20" style="font-size:10.5px;font-weight:bold;" >L</text>
<rect x="511.10" y="328.70" width="12.40" height="40.70" fill="#3d4a7b"/>
<rect x="527.80" y="308.00" width="12.20" height="61.40" fill="#a94643"/>
<rect x="550.70" y="337.69" width="11.20" height="31.71" fill="#fde4ca" stroke="#646e95" stroke-width="1.05"/>
<rect x="567.50" y="323.10" width="11.70" height="46.30" fill="#fde4ca" stroke="#ba6b69" stroke-width="1.05"/>
<rect x="510.90" y="328.31" width="3.2" height="3.2" fill="#111"/>
<rect x="515.70" y="325.00" width="3.2" height="3.2" fill="#111"/>
<rect x="520.60" y="327.10" width="3.2" height="3.2" fill="#111"/>
<rect x="527.95" y="308.44" width="2.3" height="2.3" fill="#fff" stroke="#111" stroke-width="0.8"/>
<rect x="532.75" y="304.04" width="2.3" height="2.3" fill="#fff" stroke="#111" stroke-width="0.8"/>
<rect x="537.85" y="306.85" width="2.3" height="2.3" fill="#fff" stroke="#111" stroke-width="0.8"/>
<rect x="550.10" y="336.40" width="3.2" height="3.2" fill="#111"/>
<rect x="554.70" y="334.71" width="3.2" height="3.2" fill="#111"/>
<rect x="559.80" y="335.90" width="3.2" height="3.2" fill="#111"/>
<rect x="572.20" y="324.24" width="2.3" height="2.3" fill="#fff" stroke="#111" stroke-width="0.8"/>
<rect x="572.20" y="319.86" width="2.3" height="2.3" fill="#fff" stroke="#111" stroke-width="0.8"/>
<rect x="577.20" y="319.05" width="2.3" height="2.3" fill="#fff" stroke="#111" stroke-width="0.8"/>
<line x1="505.00" y1="288.30" x2="505.00" y2="369.90" stroke="#231f20" stroke-width="1.1"/>
<line x1="504.50" y1="369.40" x2="586.70" y2="369.40" stroke="#231f20" stroke-width="1.1"/>
<line x1="500.70" y1="369.40" x2="505.00" y2="369.40" stroke="#231f20" stroke-width="1.0"/>
<text class="b" x="499.70" y="371.50" text-anchor="end" fill="#231f20" style="font-size:8.5px;font-weight:bold;" >0</text>
<line x1="500.70" y1="353.28" x2="505.00" y2="353.28" stroke="#231f20" stroke-width="1.0"/>
<text class="b" x="499.70" y="355.38" text-anchor="end" fill="#231f20" style="font-size:8.5px;font-weight:bold;" >1000</text>
<line x1="500.70" y1="337.16" x2="505.00" y2="337.16" stroke="#231f20" stroke-width="1.0"/>
<text class="b" x="499.70" y="339.26" text-anchor="end" fill="#231f20" style="font-size:8.5px;font-weight:bold;" >2000</text>
<line x1="500.70" y1="321.04" x2="505.00" y2="321.04" stroke="#231f20" stroke-width="1.0"/>
<text class="b" x="499.70" y="323.14" text-anchor="end" fill="#231f20" style="font-size:8.5px;font-weight:bold;" >3000</text>
<line x1="500.70" y1="304.92" x2="505.00" y2="304.92" stroke="#231f20" stroke-width="1.0"/>
<text class="b" x="499.70" y="307.02" text-anchor="end" fill="#231f20" style="font-size:8.5px;font-weight:bold;" >4000</text>
<line x1="500.70" y1="288.80" x2="505.00" y2="288.80" stroke="#231f20" stroke-width="1.0"/>
<text class="b" x="499.70" y="290.90" text-anchor="end" fill="#231f20" style="font-size:8.5px;font-weight:bold;" >5000</text>
<line x1="525.65" y1="369.40" x2="525.65" y2="373.00" stroke="#231f20" stroke-width="1.0"/>
<line x1="564.70" y1="369.40" x2="564.70" y2="373.00" stroke="#231f20" stroke-width="1.0"/>
<text class="b" x="522.60" y="383.00" text-anchor="middle" fill="#231f20" style="font-size:8.5px;font-weight:bold;" >Control</text>
<text class="b" transform="translate(474.20,324.00) rotate(-90)" text-anchor="middle" fill="#231f20" style="font-size:8.3px;font-weight:bold">MFI of ICAM-1</text>
<polyline points="517.30,317.70 517.30,291.90 533.05,291.90 533.05,296.50" fill="none" stroke="#231f20" stroke-width="1.1"/>
<polyline points="534.75,296.50 534.75,291.90 573.35,291.90 573.35,313.50" fill="none" stroke="#231f20" stroke-width="1.1"/>
<text x="509.40" y="288.60" fill="#2e2e2e" style="font-size:7.15px;font-weight:normal" letter-spacing="0"><tspan style="font-style:italic">P</tspan>&lt;0.0001</text>
<text x="543.70" y="288.60" fill="#2e2e2e" style="font-size:7.15px;font-weight:normal" letter-spacing="0"><tspan style="font-style:italic">P</tspan>=0.0001</text>
<text class="b" x="-0.60" y="412.70" text-anchor="start" fill="#231f20" style="font-size:10.5px;font-weight:bold;" >M</text>
<rect x="54.10" y="503.97" width="13.10" height="1.63" fill="#7f817f"/>
<rect x="71.10" y="446.79" width="12.40" height="58.81" fill="#4b6291"/>
<rect x="94.70" y="504.47" width="11.90" height="1.13" fill="#fff" stroke="#999a99" stroke-width="1.05"/>
<rect x="111.50" y="481.89" width="11.70" height="23.71" fill="#fff" stroke="#6f81a7" stroke-width="1.05"/>
<rect x="54.45" y="502.37" width="3.2" height="3.2" fill="#111"/>
<rect x="59.05" y="502.37" width="3.2" height="3.2" fill="#111"/>
<rect x="63.65" y="502.37" width="3.2" height="3.2" fill="#111"/>
<rect x="76.15" y="457.83" width="2.3" height="2.3" fill="#fff" stroke="#111" stroke-width="0.8"/>
<rect x="76.15" y="442.27" width="2.3" height="2.3" fill="#fff" stroke="#111" stroke-width="0.8"/>
<rect x="76.15" y="435.96" width="2.3" height="2.3" fill="#fff" stroke="#111" stroke-width="0.8"/>
<rect x="94.45" y="502.37" width="3.2" height="3.2" fill="#111"/>
<rect x="99.05" y="502.37" width="3.2" height="3.2" fill="#111"/>
<rect x="103.65" y="502.37" width="3.2" height="3.2" fill="#111"/>
<rect x="116.20" y="483.07" width="2.3" height="2.3" fill="#fff" stroke="#111" stroke-width="0.8"/>
<rect x="116.20" y="479.97" width="2.3" height="2.3" fill="#fff" stroke="#111" stroke-width="0.8"/>
<rect x="116.20" y="477.25" width="2.3" height="2.3" fill="#fff" stroke="#111" stroke-width="0.8"/>
<line x1="48.10" y1="423.50" x2="48.10" y2="506.10" stroke="#231f20" stroke-width="1.1"/>
<line x1="47.60" y1="505.60" x2="130.50" y2="505.60" stroke="#231f20" stroke-width="1.1"/>
<line x1="43.80" y1="505.60" x2="48.10" y2="505.60" stroke="#231f20" stroke-width="1.0"/>
<text class="b" x="42.80" y="507.70" text-anchor="end" fill="#231f20" style="font-size:8.5px;font-weight:bold;" >0</text>
<line x1="43.80" y1="478.40" x2="48.10" y2="478.40" stroke="#231f20" stroke-width="1.0"/>
<text class="b" x="42.80" y="480.50" text-anchor="end" fill="#231f20" style="font-size:8.5px;font-weight:bold;" >50</text>
<line x1="43.80" y1="451.20" x2="48.10" y2="451.20" stroke="#231f20" stroke-width="1.0"/>
<text class="b" x="42.80" y="453.30" text-anchor="end" fill="#231f20" style="font-size:8.5px;font-weight:bold;" >100</text>
<line x1="43.80" y1="424.00" x2="48.10" y2="424.00" stroke="#231f20" stroke-width="1.0"/>
<text class="b" x="42.80" y="426.10" text-anchor="end" fill="#231f20" style="font-size:8.5px;font-weight:bold;" >150</text>
<line x1="69.15" y1="505.60" x2="69.15" y2="509.20" stroke="#231f20" stroke-width="1.0"/>
<line x1="109.05" y1="505.60" x2="109.05" y2="509.20" stroke="#231f20" stroke-width="1.0"/>
<text class="b" x="70.00" y="519.30" text-anchor="middle" fill="#231f20" style="font-size:8.5px;font-weight:bold;" >Control</text>
<text class="b" transform="translate(14.50,463.00) rotate(-90)" text-anchor="middle" fill="#231f20" style="font-size:8.5px;font-weight:bold">IL4 Concentration</text>
<text class="b" transform="translate(22.60,465.70) rotate(-90)" text-anchor="middle" fill="#231f20" style="font-size:8.5px;font-weight:bold">(pg/ml)</text>
<polyline points="60.65,492.67 60.65,430.20 75.50,430.20 75.50,435.30" fill="none" stroke="#231f20" stroke-width="1.1"/>
<polyline points="79.10,435.30 79.10,430.20 117.35,430.20 117.35,468.10" fill="none" stroke="#231f20" stroke-width="1.1"/>
<text x="52.20" y="426.40" fill="#2e2e2e" style="font-size:7.15px;font-weight:normal" letter-spacing="0"><tspan style="font-style:italic">P</tspan>&lt;0.0001</text>
<text x="87.10" y="426.40" fill="#2e2e2e" style="font-size:7.15px;font-weight:normal" letter-spacing="0"><tspan style="font-style:italic">P</tspan>=0.0004</text>
<text class="b" x="157.60" y="416.20" text-anchor="start" fill="#231f20" style="font-size:10.5px;font-weight:bold;" >N</text>
<rect x="205.70" y="498.05" width="13.10" height="4.35" fill="#7f817f"/>
<rect x="223.20" y="447.52" width="12.20" height="54.88" fill="#4b6291"/>
<rect x="245.90" y="498.55" width="12.40" height="3.85" fill="#fff" stroke="#999a99" stroke-width="1.05"/>
<rect x="263.30" y="481.38" width="11.30" height="21.02" fill="#fff" stroke="#6f81a7" stroke-width="1.05"/>
<rect x="205.75" y="495.91" width="3.2" height="3.2" fill="#111"/>
<rect x="210.65" y="495.91" width="3.2" height="3.2" fill="#111"/>
<rect x="215.55" y="495.91" width="3.2" height="3.2" fill="#111"/>
<rect x="223.05" y="449.74" width="2.3" height="2.3" fill="#fff" stroke="#111" stroke-width="0.8"/>
<rect x="228.15" y="439.64" width="2.3" height="2.3" fill="#fff" stroke="#111" stroke-width="0.8"/>
<rect x="232.75" y="448.17" width="2.3" height="2.3" fill="#fff" stroke="#111" stroke-width="0.8"/>
<rect x="245.50" y="496.18" width="3.2" height="3.2" fill="#111"/>
<rect x="250.50" y="494.99" width="3.2" height="3.2" fill="#111"/>
<rect x="255.60" y="495.91" width="3.2" height="3.2" fill="#111"/>
<rect x="262.80" y="480.55" width="2.3" height="2.3" fill="#fff" stroke="#111" stroke-width="0.8"/>
<rect x="267.80" y="478.86" width="2.3" height="2.3" fill="#fff" stroke="#111" stroke-width="0.8"/>
<rect x="272.90" y="479.14" width="2.3" height="2.3" fill="#fff" stroke="#111" stroke-width="0.8"/>
<line x1="199.90" y1="420.40" x2="199.90" y2="502.90" stroke="#231f20" stroke-width="1.1"/>
<line x1="199.40" y1="502.40" x2="282.30" y2="502.40" stroke="#231f20" stroke-width="1.1"/>
<line x1="195.60" y1="502.40" x2="199.90" y2="502.40" stroke="#231f20" stroke-width="1.0"/>
<text class="b" x="194.60" y="504.50" text-anchor="end" fill="#231f20" style="font-size:8.5px;font-weight:bold;" >0</text>
<line x1="195.60" y1="475.23" x2="199.90" y2="475.23" stroke="#231f20" stroke-width="1.0"/>
<text class="b" x="194.60" y="477.33" text-anchor="end" fill="#231f20" style="font-size:8.5px;font-weight:bold;" >50</text>
<line x1="195.60" y1="448.07" x2="199.90" y2="448.07" stroke="#231f20" stroke-width="1.0"/>
<text class="b" x="194.60" y="450.17" text-anchor="end" fill="#231f20" style="font-size:8.5px;font-weight:bold;" >100</text>
<line x1="195.60" y1="420.90" x2="199.90" y2="420.90" stroke="#231f20" stroke-width="1.0"/>
<text class="b" x="194.60" y="423.00" text-anchor="end" fill="#231f20" style="font-size:8.5px;font-weight:bold;" >150</text>
<line x1="221.00" y1="502.40" x2="221.00" y2="506.00" stroke="#231f20" stroke-width="1.0"/>
<line x1="260.80" y1="502.40" x2="260.80" y2="506.00" stroke="#231f20" stroke-width="1.0"/>
<text class="b" x="222.10" y="516.90" text-anchor="middle" fill="#231f20" style="font-size:8.5px;font-weight:bold;" >Control</text>
<text class="b" transform="translate(170.90,462.40) rotate(-90)" text-anchor="middle" fill="#231f20" style="font-size:8.5px;font-weight:bold">IL13 Concentration</text>
<text class="b" transform="translate(179.20,461.70) rotate(-90)" text-anchor="middle" fill="#231f20" style="font-size:8.5px;font-weight:bold">(pg/ml)</text>
<polyline points="212.25,488.51 212.25,427.10 227.75,427.10 227.75,432.30" fill="none" stroke="#231f20" stroke-width="1.1"/>
<polyline points="230.85,432.30 230.85,427.10 268.95,427.10 268.95,469.61" fill="none" stroke="#231f20" stroke-width="1.1"/>
<text x="204.20" y="422.70" fill="#2e2e2e" style="font-size:7.15px;font-weight:normal" letter-spacing="0"><tspan style="font-style:italic">P</tspan>&lt;0.0001</text>
<text x="238.10" y="422.70" fill="#2e2e2e" style="font-size:7.15px;font-weight:normal" letter-spacing="0"><tspan style="font-style:italic">P</tspan>&lt;0.0001</text>
<text class="b" x="307.60" y="412.70" text-anchor="start" fill="#231f20" style="font-size:10.5px;font-weight:bold;" >O</text>
<rect x="353.90" y="500.92" width="13.10" height="3.28" fill="#7f817f"/>
<rect x="371.10" y="447.31" width="12.30" height="56.89" fill="#4b6291"/>
<rect x="394.20" y="501.97" width="12.20" height="2.23" fill="#fff" stroke="#999a99" stroke-width="1.05"/>
<rect x="411.10" y="492.69" width="11.80" height="11.51" fill="#fff" stroke="#6f81a7" stroke-width="1.05"/>
<rect x="354.05" y="499.11" width="3.2" height="3.2" fill="#111"/>
<rect x="358.85" y="499.11" width="3.2" height="3.2" fill="#111"/>
<rect x="363.65" y="499.11" width="3.2" height="3.2" fill="#111"/>
<rect x="371.00" y="448.07" width="2.3" height="2.3" fill="#fff" stroke="#111" stroke-width="0.8"/>
<rect x="376.10" y="443.75" width="2.3" height="2.3" fill="#fff" stroke="#111" stroke-width="0.8"/>
<rect x="381.00" y="446.54" width="2.3" height="2.3" fill="#fff" stroke="#111" stroke-width="0.8"/>
<rect x="393.70" y="500.14" width="3.2" height="3.2" fill="#111"/>
<rect x="398.70" y="499.21" width="3.2" height="3.2" fill="#111"/>
<rect x="403.60" y="499.21" width="3.2" height="3.2" fill="#111"/>
<rect x="410.95" y="492.08" width="2.3" height="2.3" fill="#fff" stroke="#111" stroke-width="0.8"/>
<rect x="415.85" y="489.56" width="2.3" height="2.3" fill="#fff" stroke="#111" stroke-width="0.8"/>
<rect x="420.95" y="489.84" width="2.3" height="2.3" fill="#fff" stroke="#111" stroke-width="0.8"/>
<line x1="348.00" y1="421.80" x2="348.00" y2="504.70" stroke="#231f20" stroke-width="1.1"/>
<line x1="347.50" y1="504.20" x2="430.10" y2="504.20" stroke="#231f20" stroke-width="1.1"/>
<line x1="343.70" y1="504.20" x2="348.00" y2="504.20" stroke="#231f20" stroke-width="1.0"/>
<text class="b" x="342.70" y="506.30" text-anchor="end" fill="#231f20" style="font-size:8.5px;font-weight:bold;" >0</text>
<line x1="343.70" y1="476.90" x2="348.00" y2="476.90" stroke="#231f20" stroke-width="1.0"/>
<text class="b" x="342.70" y="479.00" text-anchor="end" fill="#231f20" style="font-size:8.5px;font-weight:bold;" >5</text>
<line x1="343.70" y1="449.60" x2="348.00" y2="449.60" stroke="#231f20" stroke-width="1.0"/>
<text class="b" x="342.70" y="451.70" text-anchor="end" fill="#231f20" style="font-size:8.5px;font-weight:bold;" >10</text>
<line x1="343.70" y1="422.30" x2="348.00" y2="422.30" stroke="#231f20" stroke-width="1.0"/>
<text class="b" x="342.70" y="424.40" text-anchor="end" fill="#231f20" style="font-size:8.5px;font-weight:bold;" >15</text>
<line x1="369.05" y1="504.20" x2="369.05" y2="507.80" stroke="#231f20" stroke-width="1.0"/>
<line x1="408.75" y1="504.20" x2="408.75" y2="507.80" stroke="#231f20" stroke-width="1.0"/>
<text class="b" x="368.10" y="516.90" text-anchor="middle" fill="#231f20" style="font-size:8.5px;font-weight:bold;" >Control</text>
<text class="b" transform="translate(328.00,463.70) rotate(-90)" text-anchor="middle" fill="#231f20" style="font-size:8.3px;font-weight:bold">CD69<tspan dy="-3" style="font-size:5px">+</tspan><tspan dy="3"> eosinophils (%)</tspan></text>
<polyline points="360.45,496.81 360.45,429.50 375.85,429.50 375.85,435.50" fill="none" stroke="#231f20" stroke-width="1.1"/>
<polyline points="378.65,435.50 378.65,429.50 417.00,429.50 417.00,482.91" fill="none" stroke="#231f20" stroke-width="1.1"/>
<text x="352.00" y="424.00" fill="#2e2e2e" style="font-size:7.15px;font-weight:normal" letter-spacing="0"><tspan style="font-style:italic">P</tspan>&lt;0.0001</text>
<text x="385.70" y="424.00" fill="#2e2e2e" style="font-size:7.15px;font-weight:normal" letter-spacing="0"><tspan style="font-style:italic">P</tspan>&lt;0.0001</text>
<text class="b" x="457.80" y="413.70" text-anchor="start" fill="#231f20" style="font-size:10.5px;font-weight:bold;" >P</text>
<rect x="510.60" y="485.09" width="12.10" height="19.11" fill="#7f817f"/>
<rect x="527.40" y="449.70" width="12.40" height="54.50" fill="#4b6291"/>
<rect x="550.50" y="484.50" width="11.90" height="19.70" fill="#fff" stroke="#999a99" stroke-width="1.05"/>
<rect x="567.30" y="467.60" width="12.10" height="36.60" fill="#fff" stroke="#6f81a7" stroke-width="1.05"/>
<rect x="510.05" y="484.30" width="3.2" height="3.2" fill="#111"/>
<rect x="515.05" y="483.70" width="3.2" height="3.2" fill="#111"/>
<rect x="519.95" y="483.90" width="3.2" height="3.2" fill="#111"/>
<rect x="527.55" y="448.95" width="2.3" height="2.3" fill="#fff" stroke="#111" stroke-width="0.8"/>
<rect x="532.45" y="446.75" width="2.3" height="2.3" fill="#fff" stroke="#111" stroke-width="0.8"/>
<rect x="537.55" y="448.05" width="2.3" height="2.3" fill="#fff" stroke="#111" stroke-width="0.8"/>
<rect x="549.95" y="482.80" width="3.2" height="3.2" fill="#111"/>
<rect x="554.85" y="481.90" width="3.2" height="3.2" fill="#111"/>
<rect x="559.95" y="482.70" width="3.2" height="3.2" fill="#111"/>
<rect x="567.60" y="466.75" width="2.3" height="2.3" fill="#fff" stroke="#111" stroke-width="0.8"/>
<rect x="572.20" y="464.15" width="2.3" height="2.3" fill="#fff" stroke="#111" stroke-width="0.8"/>
<rect x="577.30" y="466.55" width="2.3" height="2.3" fill="#fff" stroke="#111" stroke-width="0.8"/>
<line x1="504.50" y1="421.80" x2="504.50" y2="504.70" stroke="#231f20" stroke-width="1.1"/>
<line x1="504.00" y1="504.20" x2="586.50" y2="504.20" stroke="#231f20" stroke-width="1.1"/>
<line x1="500.20" y1="504.20" x2="504.50" y2="504.20" stroke="#231f20" stroke-width="1.0"/>
<text class="b" x="499.20" y="506.30" text-anchor="end" fill="#231f20" style="font-size:8.5px;font-weight:bold;" >0</text>
<line x1="500.20" y1="476.90" x2="504.50" y2="476.90" stroke="#231f20" stroke-width="1.0"/>
<text class="b" x="499.20" y="479.00" text-anchor="end" fill="#231f20" style="font-size:8.5px;font-weight:bold;" >5000</text>
<line x1="500.20" y1="449.60" x2="504.50" y2="449.60" stroke="#231f20" stroke-width="1.0"/>
<text class="b" x="499.20" y="451.70" text-anchor="end" fill="#231f20" style="font-size:8.5px;font-weight:bold;" >10000</text>
<line x1="500.20" y1="422.30" x2="504.50" y2="422.30" stroke="#231f20" stroke-width="1.0"/>
<text class="b" x="499.20" y="424.40" text-anchor="end" fill="#231f20" style="font-size:8.5px;font-weight:bold;" >15000</text>
<line x1="525.05" y1="504.20" x2="525.05" y2="507.80" stroke="#231f20" stroke-width="1.0"/>
<line x1="564.85" y1="504.20" x2="564.85" y2="507.80" stroke="#231f20" stroke-width="1.0"/>
<text class="b" x="524.40" y="516.90" text-anchor="middle" fill="#231f20" style="font-size:8.5px;font-weight:bold;" >Control</text>
<text class="b" transform="translate(473.90,461.90) rotate(-90)" text-anchor="middle" fill="#231f20" style="font-size:8.3px;font-weight:bold">MFI of ICAM-1</text>
<polyline points="516.65,475.90 516.65,429.80 531.95,429.80 531.95,435.50" fill="none" stroke="#231f20" stroke-width="1.1"/>
<polyline points="535.25,435.50 535.25,429.80 573.35,429.80 573.35,456.50" fill="none" stroke="#231f20" stroke-width="1.1"/>
<text x="508.10" y="425.30" fill="#2e2e2e" style="font-size:7.15px;font-weight:normal" letter-spacing="0"><tspan style="font-style:italic">P</tspan>&lt;0.0001</text>
<text x="542.10" y="425.30" fill="#2e2e2e" style="font-size:7.15px;font-weight:normal" letter-spacing="0"><tspan style="font-style:italic">P</tspan>&lt;0.0001</text>
<text class="b" x="-0.60" y="551.60" text-anchor="start" fill="#231f20" style="font-size:10.5px;font-weight:bold;" >Q</text>
<rect x="53.40" y="634.80" width="12.60" height="12.40" fill="#809dbe"/>
<rect x="69.90" y="589.26" width="12.00" height="57.94" fill="#b56e50"/>
<rect x="92.60" y="635.84" width="11.60" height="11.37" fill="#fff" stroke="#99b1cb" stroke-width="1.05"/>
<rect x="108.60" y="628.00" width="11.70" height="19.20" fill="#fff" stroke="#c48b73" stroke-width="1.05"/>
<rect x="53.10" y="635.59" width="3.2" height="3.2" fill="#111"/>
<rect x="58.10" y="627.70" width="3.2" height="3.2" fill="#111"/>
<rect x="62.90" y="634.80" width="3.2" height="3.2" fill="#111"/>
<rect x="74.75" y="593.25" width="2.3" height="2.3" fill="#fff" stroke="#111" stroke-width="0.8"/>
<rect x="74.75" y="585.54" width="2.3" height="2.3" fill="#fff" stroke="#111" stroke-width="0.8"/>
<rect x="79.95" y="585.34" width="2.3" height="2.3" fill="#fff" stroke="#111" stroke-width="0.8"/>
<rect x="92.05" y="633.79" width="3.2" height="3.2" fill="#111"/>
<rect x="96.80" y="633.79" width="3.2" height="3.2" fill="#111"/>
<rect x="101.55" y="633.79" width="3.2" height="3.2" fill="#111"/>
<rect x="113.30" y="630.03" width="2.3" height="2.3" fill="#fff" stroke="#111" stroke-width="0.8"/>
<rect x="113.30" y="625.88" width="2.3" height="2.3" fill="#fff" stroke="#111" stroke-width="0.8"/>
<rect x="113.30" y="622.32" width="2.3" height="2.3" fill="#fff" stroke="#111" stroke-width="0.8"/>
<line x1="47.60" y1="567.60" x2="47.60" y2="647.70" stroke="#231f20" stroke-width="1.1"/>
<line x1="47.10" y1="647.20" x2="127.20" y2="647.20" stroke="#231f20" stroke-width="1.1"/>
<line x1="43.30" y1="647.20" x2="47.60" y2="647.20" stroke="#231f20" stroke-width="1.0"/>
<text class="b" x="42.30" y="649.30" text-anchor="end" fill="#231f20" style="font-size:8.5px;font-weight:bold;" >0</text>
<line x1="43.30" y1="627.43" x2="47.60" y2="627.43" stroke="#231f20" stroke-width="1.0"/>
<text class="b" x="42.30" y="629.53" text-anchor="end" fill="#231f20" style="font-size:8.5px;font-weight:bold;" >10</text>
<line x1="43.30" y1="607.65" x2="47.60" y2="607.65" stroke="#231f20" stroke-width="1.0"/>
<text class="b" x="42.30" y="609.75" text-anchor="end" fill="#231f20" style="font-size:8.5px;font-weight:bold;" >20</text>
<line x1="43.30" y1="587.88" x2="47.60" y2="587.88" stroke="#231f20" stroke-width="1.0"/>
<text class="b" x="42.30" y="589.98" text-anchor="end" fill="#231f20" style="font-size:8.5px;font-weight:bold;" >30</text>
<line x1="43.30" y1="568.10" x2="47.60" y2="568.10" stroke="#231f20" stroke-width="1.0"/>
<text class="b" x="42.30" y="570.20" text-anchor="end" fill="#231f20" style="font-size:8.5px;font-weight:bold;" >40</text>
<line x1="67.95" y1="647.20" x2="67.95" y2="650.80" stroke="#231f20" stroke-width="1.0"/>
<line x1="106.40" y1="647.20" x2="106.40" y2="650.80" stroke="#231f20" stroke-width="1.0"/>
<text class="b" x="66.20" y="658.60" text-anchor="middle" fill="#231f20" style="font-size:8.5px;font-weight:bold;" >Control</text>
<text class="b" x="107.30" y="658.60" text-anchor="middle" fill="#231f20" style="font-size:8.5px;font-weight:bold;" >Con.A</text>
<text class="b" transform="translate(16.10,603.50) rotate(-90)" text-anchor="middle" fill="#231f20" style="font-size:8.5px;font-weight:bold">IL4 Concentration</text>
<text class="b" transform="translate(24.20,605.90) rotate(-90)" text-anchor="middle" fill="#231f20" style="font-size:8.5px;font-weight:bold">(pg/ml)</text>
<polyline points="59.70,628.70 59.70,568.40 74.20,568.40 74.20,573.30" fill="none" stroke="#231f20" stroke-width="1.1"/>
<polyline points="77.60,573.30 77.60,568.40 114.45,568.40 114.45,617.77" fill="none" stroke="#231f20" stroke-width="1.1"/>
<text x="52.20" y="565.30" fill="#2e2e2e" style="font-size:7.15px;font-weight:normal" letter-spacing="0"><tspan style="font-style:italic">P</tspan>&lt;0.0001</text>
<text x="86.40" y="565.30" fill="#2e2e2e" style="font-size:7.15px;font-weight:normal" letter-spacing="0"><tspan style="font-style:italic">P</tspan>&lt;0.0001</text>
<text class="b" x="133.60" y="551.20" text-anchor="start" fill="#231f20" style="font-size:10.5px;font-weight:bold;" >R</text>
<rect x="184.40" y="619.00" width="12.40" height="25.50" fill="#809dbe"/>
<rect x="200.90" y="590.80" width="12.00" height="53.70" fill="#b56e50"/>
<rect x="223.40" y="619.66" width="11.40" height="24.84" fill="#fff" stroke="#99b1cb" stroke-width="1.05"/>
<rect x="239.40" y="603.97" width="11.90" height="40.53" fill="#fff" stroke="#c48b73" stroke-width="1.05"/>
<rect x="183.90" y="617.98" width="3.2" height="3.2" fill="#111"/>
<rect x="189.00" y="616.82" width="3.2" height="3.2" fill="#111"/>
<rect x="193.80" y="617.71" width="3.2" height="3.2" fill="#111"/>
<rect x="200.95" y="591.13" width="2.3" height="2.3" fill="#fff" stroke="#111" stroke-width="0.8"/>
<rect x="205.75" y="587.54" width="2.3" height="2.3" fill="#fff" stroke="#111" stroke-width="0.8"/>
<rect x="210.45" y="590.23" width="2.3" height="2.3" fill="#fff" stroke="#111" stroke-width="0.8"/>
<rect x="222.70" y="617.71" width="3.2" height="3.2" fill="#111"/>
<rect x="227.50" y="615.02" width="3.2" height="3.2" fill="#111"/>
<rect x="232.40" y="617.40" width="3.2" height="3.2" fill="#111"/>
<rect x="239.30" y="604.28" width="2.3" height="2.3" fill="#fff" stroke="#111" stroke-width="0.8"/>
<rect x="244.20" y="598.26" width="2.3" height="2.3" fill="#fff" stroke="#111" stroke-width="0.8"/>
<rect x="249.20" y="603.33" width="2.3" height="2.3" fill="#fff" stroke="#111" stroke-width="0.8"/>
<line x1="178.30" y1="564.80" x2="178.30" y2="645.00" stroke="#231f20" stroke-width="1.1"/>
<line x1="177.80" y1="644.50" x2="257.80" y2="644.50" stroke="#231f20" stroke-width="1.1"/>
<line x1="174.00" y1="644.50" x2="178.30" y2="644.50" stroke="#231f20" stroke-width="1.0"/>
<text class="b" x="173.00" y="646.60" text-anchor="end" fill="#231f20" style="font-size:8.5px;font-weight:bold;" >0</text>
<line x1="174.00" y1="618.10" x2="178.30" y2="618.10" stroke="#231f20" stroke-width="1.0"/>
<text class="b" x="173.00" y="620.20" text-anchor="end" fill="#231f20" style="font-size:8.5px;font-weight:bold;" >50</text>
<line x1="174.00" y1="591.70" x2="178.30" y2="591.70" stroke="#231f20" stroke-width="1.0"/>
<text class="b" x="173.00" y="593.80" text-anchor="end" fill="#231f20" style="font-size:8.5px;font-weight:bold;" >100</text>
<line x1="174.00" y1="565.30" x2="178.30" y2="565.30" stroke="#231f20" stroke-width="1.0"/>
<text class="b" x="173.00" y="567.40" text-anchor="end" fill="#231f20" style="font-size:8.5px;font-weight:bold;" >150</text>
<line x1="198.85" y1="644.50" x2="198.85" y2="648.10" stroke="#231f20" stroke-width="1.0"/>
<line x1="237.10" y1="644.50" x2="237.10" y2="648.10" stroke="#231f20" stroke-width="1.0"/>
<text class="b" x="197.60" y="656.00" text-anchor="middle" fill="#231f20" style="font-size:8.5px;font-weight:bold;" >Control</text>
<text class="b" x="238.40" y="656.00" text-anchor="middle" fill="#231f20" style="font-size:8.5px;font-weight:bold;" >Con.A</text>
<text class="b" transform="translate(148.20,606.20) rotate(-90)" text-anchor="middle" fill="#231f20" style="font-size:8.5px;font-weight:bold">IL13 Concentration</text>
<text class="b" transform="translate(156.30,607.40) rotate(-90)" text-anchor="middle" fill="#231f20" style="font-size:8.5px;font-weight:bold">(pg/ml)</text>
<polyline points="190.60,613.02 190.60,565.60 205.25,565.60 205.25,570.70" fill="none" stroke="#231f20" stroke-width="1.1"/>
<polyline points="208.55,570.70 208.55,565.60 245.35,565.60 245.35,595.01" fill="none" stroke="#231f20" stroke-width="1.1"/>
<text x="182.00" y="562.90" fill="#2e2e2e" style="font-size:7.15px;font-weight:normal" letter-spacing="0"><tspan style="font-style:italic">P</tspan>&lt;0.0001</text>
<text x="216.90" y="562.90" fill="#2e2e2e" style="font-size:7.15px;font-weight:normal" letter-spacing="0"><tspan style="font-style:italic">P</tspan>=0.0002</text>
<text class="b" x="332.00" y="551.20" text-anchor="start" fill="#231f20" style="font-size:10.5px;font-weight:bold;" >S</text>
<rect x="379.60" y="638.98" width="12.70" height="4.92" fill="#809dbe"/>
<rect x="396.10" y="571.40" width="11.70" height="72.50" fill="#b56e50"/>
<rect x="418.80" y="639.48" width="11.40" height="4.42" fill="#c9c9c9" stroke="#99b1cb" stroke-width="1.05"/>
<rect x="434.80" y="625.88" width="10.70" height="18.02" fill="#c9c9c9" stroke="#c48b73" stroke-width="1.05"/>
<rect x="379.25" y="637.49" width="3.2" height="3.2" fill="#111"/>
<rect x="384.35" y="636.59" width="3.2" height="3.2" fill="#111"/>
<rect x="389.15" y="637.49" width="3.2" height="3.2" fill="#111"/>
<rect x="400.50" y="572.03" width="2.3" height="2.3" fill="#fff" stroke="#111" stroke-width="0.8"/>
<rect x="400.50" y="569.27" width="2.3" height="2.3" fill="#fff" stroke="#111" stroke-width="0.8"/>
<rect x="405.60" y="569.07" width="2.3" height="2.3" fill="#fff" stroke="#111" stroke-width="0.8"/>
<rect x="417.70" y="638.16" width="3.2" height="3.2" fill="#111"/>
<rect x="422.60" y="636.59" width="3.2" height="3.2" fill="#111"/>
<rect x="427.40" y="637.49" width="3.2" height="3.2" fill="#111"/>
<rect x="434.20" y="626.40" width="2.3" height="2.3" fill="#fff" stroke="#111" stroke-width="0.8"/>
<rect x="439.30" y="620.10" width="2.3" height="2.3" fill="#fff" stroke="#111" stroke-width="0.8"/>
<rect x="444.20" y="624.63" width="2.3" height="2.3" fill="#fff" stroke="#111" stroke-width="0.8"/>
<line x1="373.70" y1="564.60" x2="373.70" y2="644.40" stroke="#231f20" stroke-width="1.1"/>
<line x1="373.20" y1="643.90" x2="452.60" y2="643.90" stroke="#231f20" stroke-width="1.1"/>
<line x1="369.40" y1="643.90" x2="373.70" y2="643.90" stroke="#231f20" stroke-width="1.0"/>
<text class="b" x="368.40" y="646.00" text-anchor="end" fill="#231f20" style="font-size:8.5px;font-weight:bold;" >0</text>
<line x1="369.40" y1="624.20" x2="373.70" y2="624.20" stroke="#231f20" stroke-width="1.0"/>
<text class="b" x="368.40" y="626.30" text-anchor="end" fill="#231f20" style="font-size:8.5px;font-weight:bold;" >10</text>
<line x1="369.40" y1="604.50" x2="373.70" y2="604.50" stroke="#231f20" stroke-width="1.0"/>
<text class="b" x="368.40" y="606.60" text-anchor="end" fill="#231f20" style="font-size:8.5px;font-weight:bold;" >20</text>
<line x1="369.40" y1="584.80" x2="373.70" y2="584.80" stroke="#231f20" stroke-width="1.0"/>
<text class="b" x="368.40" y="586.90" text-anchor="end" fill="#231f20" style="font-size:8.5px;font-weight:bold;" >30</text>
<line x1="369.40" y1="565.10" x2="373.70" y2="565.10" stroke="#231f20" stroke-width="1.0"/>
<text class="b" x="368.40" y="567.20" text-anchor="end" fill="#231f20" style="font-size:8.5px;font-weight:bold;" >40</text>
<line x1="394.20" y1="643.90" x2="394.20" y2="647.50" stroke="#231f20" stroke-width="1.0"/>
<line x1="432.50" y1="643.90" x2="432.50" y2="647.50" stroke="#231f20" stroke-width="1.0"/>
<text class="b" x="392.20" y="656.00" text-anchor="middle" fill="#231f20" style="font-size:8.5px;font-weight:bold;" >Control</text>
<text class="b" transform="translate(347.20,600.20) rotate(-90)" text-anchor="middle" fill="#231f20" style="font-size:8.5px;font-weight:bold">IL4 Concentration</text>
<text class="b" transform="translate(355.60,603.00) rotate(-90)" text-anchor="middle" fill="#231f20" style="font-size:8.5px;font-weight:bold">(pg/ml)</text>
<polyline points="385.95,629.39 385.95,565.40 400.60,565.40 400.60,569.90" fill="none" stroke="#231f20" stroke-width="1.1"/>
<polyline points="403.30,569.90 403.30,565.40 440.15,565.40 440.15,614.85" fill="none" stroke="#231f20" stroke-width="1.1"/>
<text x="376.30" y="561.60" fill="#2e2e2e" style="font-size:7.15px;font-weight:normal" letter-spacing="0"><tspan style="font-style:italic">P</tspan>&lt;0.0001</text>
<text x="410.60" y="561.60" fill="#2e2e2e" style="font-size:7.15px;font-weight:normal" letter-spacing="0"><tspan style="font-style:italic">P</tspan>&lt;0.0001</text>
<text class="b" x="465.00" y="551.00" text-anchor="start" fill="#231f20" style="font-size:10.5px;font-weight:bold;" >T</text>
<rect x="512.10" y="594.84" width="12.10" height="49.86" fill="#809dbe"/>
<rect x="528.30" y="569.03" width="12.20" height="75.67" fill="#b56e50"/>
<rect x="551.40" y="595.34" width="11.00" height="49.36" fill="#c9c9c9" stroke="#99b1cb" stroke-width="1.05"/>
<rect x="567.50" y="595.02" width="10.90" height="49.68" fill="#c9c9c9" stroke="#c48b73" stroke-width="1.05"/>
<rect x="511.95" y="594.97" width="3.2" height="3.2" fill="#111"/>
<rect x="516.75" y="588.26" width="3.2" height="3.2" fill="#111"/>
<rect x="521.35" y="594.97" width="3.2" height="3.2" fill="#111"/>
<rect x="532.65" y="568.75" width="2.3" height="2.3" fill="#fff" stroke="#111" stroke-width="0.8"/>
<rect x="532.65" y="566.94" width="2.3" height="2.3" fill="#fff" stroke="#111" stroke-width="0.8"/>
<rect x="537.75" y="566.62" width="2.3" height="2.3" fill="#fff" stroke="#111" stroke-width="0.8"/>
<rect x="550.30" y="594.97" width="3.2" height="3.2" fill="#111"/>
<rect x="554.90" y="589.76" width="3.2" height="3.2" fill="#111"/>
<rect x="559.80" y="593.79" width="3.2" height="3.2" fill="#111"/>
<rect x="566.90" y="594.87" width="2.3" height="2.3" fill="#fff" stroke="#111" stroke-width="0.8"/>
<rect x="571.80" y="590.92" width="2.3" height="2.3" fill="#fff" stroke="#111" stroke-width="0.8"/>
<rect x="576.70" y="593.05" width="2.3" height="2.3" fill="#fff" stroke="#111" stroke-width="0.8"/>
<line x1="506.30" y1="565.30" x2="506.30" y2="645.20" stroke="#231f20" stroke-width="1.1"/>
<line x1="505.80" y1="644.70" x2="585.80" y2="644.70" stroke="#231f20" stroke-width="1.1"/>
<line x1="502.00" y1="644.70" x2="506.30" y2="644.70" stroke="#231f20" stroke-width="1.0"/>
<text class="b" x="501.00" y="646.80" text-anchor="end" fill="#231f20" style="font-size:8.5px;font-weight:bold;" >0</text>
<line x1="502.00" y1="628.92" x2="506.30" y2="628.92" stroke="#231f20" stroke-width="1.0"/>
<text class="b" x="501.00" y="631.02" text-anchor="end" fill="#231f20" style="font-size:8.5px;font-weight:bold;" >20</text>
<line x1="502.00" y1="613.14" x2="506.30" y2="613.14" stroke="#231f20" stroke-width="1.0"/>
<text class="b" x="501.00" y="615.24" text-anchor="end" fill="#231f20" style="font-size:8.5px;font-weight:bold;" >40</text>
<line x1="502.00" y1="597.36" x2="506.30" y2="597.36" stroke="#231f20" stroke-width="1.0"/>
<text class="b" x="501.00" y="599.46" text-anchor="end" fill="#231f20" style="font-size:8.5px;font-weight:bold;" >60</text>
<line x1="502.00" y1="581.58" x2="506.30" y2="581.58" stroke="#231f20" stroke-width="1.0"/>
<text class="b" x="501.00" y="583.68" text-anchor="end" fill="#231f20" style="font-size:8.5px;font-weight:bold;" >80</text>
<line x1="502.00" y1="565.80" x2="506.30" y2="565.80" stroke="#231f20" stroke-width="1.0"/>
<text class="b" x="501.00" y="567.90" text-anchor="end" fill="#231f20" style="font-size:8.5px;font-weight:bold;" >100</text>
<line x1="526.25" y1="644.70" x2="526.25" y2="648.30" stroke="#231f20" stroke-width="1.0"/>
<line x1="564.95" y1="644.70" x2="564.95" y2="648.30" stroke="#231f20" stroke-width="1.0"/>
<text class="b" x="525.60" y="656.00" text-anchor="middle" fill="#231f20" style="font-size:8.5px;font-weight:bold;" >Control</text>
<text class="b" transform="translate(475.70,606.40) rotate(-90)" text-anchor="middle" fill="#231f20" style="font-size:8.5px;font-weight:bold">IL13 Concentration</text>
<text class="b" transform="translate(483.80,606.00) rotate(-90)" text-anchor="middle" fill="#231f20" style="font-size:8.5px;font-weight:bold">(pg/ml)</text>
<polyline points="518.15,584.46 518.15,566.20 533.20,566.20 533.20,568.70" fill="none" stroke="#231f20" stroke-width="1.1"/>
<polyline points="535.60,568.70 535.60,566.20 572.95,566.20 572.95,588.87" fill="none" stroke="#231f20" stroke-width="1.1"/>
<text x="508.50" y="561.60" fill="#2e2e2e" style="font-size:7.15px;font-weight:normal" letter-spacing="0"><tspan style="font-style:italic">P</tspan>&lt;0.0001</text>
<text x="542.20" y="561.60" fill="#2e2e2e" style="font-size:7.15px;font-weight:normal" letter-spacing="0"><tspan style="font-style:italic">P</tspan>&lt;0.0001</text>
<text class="b" x="87.20" y="383.30" text-anchor="start" fill="#231f20" style="font-size:8.5px;font-weight:bold;" >SID26681509</text>
<text class="b" x="244.70" y="383.70" text-anchor="start" fill="#231f20" style="font-size:8.5px;font-weight:bold;" >SID26681509</text>
<text class="b" x="391.80" y="383.60" text-anchor="start" fill="#231f20" style="font-size:8.5px;font-weight:bold;" >SID26681509</text>
<text class="b" x="547.80" y="383.00" text-anchor="start" fill="#231f20" style="font-size:8.5px;font-weight:bold;" >SID26681509</text>
<text class="b" x="414.20" y="656.00" text-anchor="start" fill="#231f20" style="font-size:8.5px;font-weight:bold;" >SID26681509</text>
<text class="b" x="545.40" y="656.00" text-anchor="start" fill="#231f20" style="font-size:8.5px;font-weight:bold;" >SID26681509</text>
<text class="b" x="98.60" y="519.30" text-anchor="start" fill="#231f20" style="font-size:8.5px;font-weight:bold;" ><tspan style="font-style:italic">Ctsl</tspan><tspan dx="2.2" dy="-2.3" style="font-size:5.5px">eoΔ</tspan></text>
<text class="b" x="250.90" y="516.90" text-anchor="start" fill="#231f20" style="font-size:8.5px;font-weight:bold;" ><tspan style="font-style:italic">Ctsl</tspan><tspan dx="2.2" dy="-2.3" style="font-size:5.5px">eoΔ</tspan></text>
<text class="b" x="396.30" y="516.90" text-anchor="start" fill="#231f20" style="font-size:8.5px;font-weight:bold;" ><tspan style="font-style:italic">Ctsl</tspan><tspan dx="2.2" dy="-2.3" style="font-size:5.5px">eoΔ</tspan></text>
<text class="b" x="553.40" y="516.90" text-anchor="start" fill="#231f20" style="font-size:8.5px;font-weight:bold;" ><tspan style="font-style:italic">Ctsl</tspan><tspan dx="2.2" dy="-2.3" style="font-size:5.5px">eoΔ</tspan></text>
<rect x="598.90" y="25.10" width="10.20" height="4.20" fill="#3d4a7b"/>
<text class="b" x="615.40" y="30.20" text-anchor="start" fill="#231f20" style="font-size:8.5px;font-weight:bold;" >Control</text>
<text class="b" x="650.60" y="30.20" text-anchor="start" fill="#231f20" style="font-size:8.5px;font-weight:bold;" >NS</text>
<rect x="598.90" y="39.00" width="10.20" height="4.20" fill="#a94643"/>
<text class="b" x="615.40" y="43.70" text-anchor="start" fill="#231f20" style="font-size:8.5px;font-weight:bold;" >Control</text>
<text class="b" x="650.60" y="43.70" text-anchor="start" fill="#231f20" style="font-size:8.5px;font-weight:bold;" >IL33</text>
<rect x="599.40" y="51.70" width="9.20" height="3.20" fill="#fff" stroke="#505c88" stroke-width="1.0"/>
<text class="b" x="616.70" y="56.50" text-anchor="start" fill="#231f20" style="font-size:8.5px;font-weight:bold;" >Con.A</text>
<text class="b" x="650.80" y="56.50" text-anchor="start" fill="#231f20" style="font-size:8.5px;font-weight:bold;" >NS</text>
<rect x="599.40" y="63.10" width="9.20" height="3.20" fill="#fff" stroke="#b25856" stroke-width="1.0"/>
<text class="b" x="616.70" y="67.30" text-anchor="start" fill="#231f20" style="font-size:8.5px;font-weight:bold;" >Con.A</text>
<text class="b" x="651.50" y="67.30" text-anchor="start" fill="#231f20" style="font-size:8.5px;font-weight:bold;" >IL33</text>
<rect x="599.40" y="153.80" width="10.30" height="4.20" fill="#3d4a7b"/>
<text class="b" x="615.70" y="158.60" text-anchor="start" fill="#231f20" style="font-size:8.5px;font-weight:bold;" >Control</text>
<text class="b" x="651.00" y="158.60" text-anchor="start" fill="#231f20" style="font-size:8.5px;font-weight:bold;" >NS</text>
<rect x="599.40" y="167.40" width="10.30" height="4.20" fill="#a94643"/>
<text class="b" x="615.70" y="172.20" text-anchor="start" fill="#231f20" style="font-size:8.5px;font-weight:bold;" >Control</text>
<text class="b" x="651.00" y="172.20" text-anchor="start" fill="#231f20" style="font-size:8.5px;font-weight:bold;" >IL33</text>
<rect x="599.90" y="180.10" width="9.30" height="3.20" fill="#c9c9c9" stroke="#505c88" stroke-width="1.0"/>
<text class="b" x="615.70" y="184.40" text-anchor="start" fill="#231f20" style="font-size:8.5px;font-weight:bold;" >E64D</text>
<text class="b" x="651.00" y="184.40" text-anchor="start" fill="#231f20" style="font-size:8.5px;font-weight:bold;" >NS</text>
<rect x="599.90" y="192.90" width="9.30" height="3.20" fill="#c9c9c9" stroke="#b25856" stroke-width="1.0"/>
<text class="b" x="615.70" y="196.90" text-anchor="start" fill="#231f20" style="font-size:8.5px;font-weight:bold;" >E64D</text>
<text class="b" x="651.00" y="196.90" text-anchor="start" fill="#231f20" style="font-size:8.5px;font-weight:bold;" >IL33</text>
<rect x="598.00" y="283.10" width="10.00" height="4.20" fill="#3d4a7b"/>
<text class="b" x="613.90" y="288.20" text-anchor="start" fill="#231f20" style="font-size:8.5px;font-weight:bold;" >Control</text>
<text class="b" x="649.60" y="288.20" text-anchor="start" fill="#231f20" style="font-size:8.5px;font-weight:bold;" >NS</text>
<rect x="598.00" y="296.90" width="10.00" height="4.20" fill="#a94643"/>
<text class="b" x="613.90" y="301.60" text-anchor="start" fill="#231f20" style="font-size:8.5px;font-weight:bold;" >Control</text>
<text class="b" x="650.30" y="301.60" text-anchor="start" fill="#231f20" style="font-size:8.5px;font-weight:bold;" >IL33</text>
<rect x="598.50" y="310.30" width="9.00" height="3.20" fill="#fde4ca" stroke="#505c88" stroke-width="1.0"/>
<text class="b" x="613.90" y="313.80" text-anchor="start" fill="#231f20" style="font-size:8.5px;font-weight:bold;" >SID26681509</text>
<text class="b" x="668.40" y="313.80" text-anchor="start" fill="#231f20" style="font-size:8.5px;font-weight:bold;" >NS</text>
<rect x="598.50" y="322.30" width="9.00" height="3.20" fill="#fde4ca" stroke="#b25856" stroke-width="1.0"/>
<text class="b" x="613.90" y="326.60" text-anchor="start" fill="#231f20" style="font-size:8.5px;font-weight:bold;" >SID26681509</text>
<text class="b" x="668.80" y="326.60" text-anchor="start" fill="#231f20" style="font-size:8.5px;font-weight:bold;" >IL33</text>
<rect x="598.00" y="419.60" width="10.00" height="4.20" fill="#7f817f"/>
<text class="b" x="613.90" y="424.40" text-anchor="start" fill="#231f20" style="font-size:8.5px;font-weight:bold;" >Control</text>
<text class="b" x="649.40" y="424.40" text-anchor="start" fill="#231f20" style="font-size:8.5px;font-weight:bold;" >NS</text>
<rect x="598.00" y="433.10" width="10.00" height="4.20" fill="#4b6291"/>
<text class="b" x="613.90" y="437.90" text-anchor="start" fill="#231f20" style="font-size:8.5px;font-weight:bold;" >Control</text>
<text class="b" x="649.40" y="437.90" text-anchor="start" fill="#231f20" style="font-size:8.5px;font-weight:bold;" >IL33</text>
<rect x="598.50" y="445.80" width="9.00" height="3.20" fill="#fff" stroke="#8c8e8c" stroke-width="1.0"/>
<text class="b" x="613.90" y="450.10" text-anchor="start" fill="#231f20" style="font-size:8.5px;font-weight:bold;" ><tspan style="font-style:italic">Ctsl</tspan><tspan dx="2.2" dy="-2.3" style="font-size:5.5px">eoΔ</tspan></text>
<text class="b" x="649.40" y="450.10" text-anchor="start" fill="#231f20" style="font-size:8.5px;font-weight:bold;" >NS</text>
<rect x="598.50" y="458.30" width="9.00" height="3.20" fill="#fff" stroke="#5d729c" stroke-width="1.0"/>
<text class="b" x="613.90" y="462.60" text-anchor="start" fill="#231f20" style="font-size:8.5px;font-weight:bold;" ><tspan style="font-style:italic">Ctsl</tspan><tspan dx="2.2" dy="-2.3" style="font-size:5.5px">eoΔ</tspan></text>
<text class="b" x="649.40" y="462.60" text-anchor="start" fill="#231f20" style="font-size:8.5px;font-weight:bold;" >IL33</text>
<rect x="260.10" y="557.40" width="9.90" height="4.20" fill="#809dbe"/>
<text class="b" x="275.70" y="561.50" text-anchor="start" fill="#231f20" style="font-size:8.5px;font-weight:bold;" >Control</text>
<text class="b" x="308.30" y="561.50" text-anchor="start" fill="#231f20" style="font-size:8.5px;font-weight:bold;" >NS</text>
<rect x="260.10" y="569.70" width="9.90" height="4.20" fill="#b56e50"/>
<text class="b" x="275.70" y="574.40" text-anchor="start" fill="#231f20" style="font-size:8.5px;font-weight:bold;" >Control</text>
<text class="b" x="308.00" y="574.40" text-anchor="start" fill="#231f20" style="font-size:8.5px;font-weight:bold;" >IL33</text>
<rect x="260.60" y="582.40" width="8.90" height="3.20" fill="#fff" stroke="#8da7c4" stroke-width="1.0"/>
<text class="b" x="275.70" y="586.40" text-anchor="start" fill="#231f20" style="font-size:8.5px;font-weight:bold;" >Con.A</text>
<text class="b" x="308.00" y="586.40" text-anchor="start" fill="#231f20" style="font-size:8.5px;font-weight:bold;" >NS</text>
<rect x="260.60" y="594.40" width="8.90" height="3.20" fill="#fff" stroke="#bc7c62" stroke-width="1.0"/>
<text class="b" x="275.70" y="598.40" text-anchor="start" fill="#231f20" style="font-size:8.5px;font-weight:bold;" >Con.A</text>
<text class="b" x="308.60" y="598.40" text-anchor="start" fill="#231f20" style="font-size:8.5px;font-weight:bold;" >IL33</text>
<rect x="596.90" y="557.60" width="10.40" height="4.20" fill="#809dbe"/>
<text class="b" x="613.00" y="561.00" text-anchor="start" fill="#231f20" style="font-size:8.5px;font-weight:bold;" >Control</text>
<text class="b" x="648.20" y="561.00" text-anchor="start" fill="#231f20" style="font-size:8.5px;font-weight:bold;" >NS</text>
<rect x="596.90" y="569.90" width="10.40" height="4.20" fill="#b56e50"/>
<text class="b" x="613.00" y="574.00" text-anchor="start" fill="#231f20" style="font-size:8.5px;font-weight:bold;" >Control</text>
<text class="b" x="647.00" y="574.00" text-anchor="start" fill="#231f20" style="font-size:8.5px;font-weight:bold;" >IL33</text>
<rect x="597.40" y="583.00" width="9.40" height="3.20" fill="#c9c9c9" stroke="#8da7c4" stroke-width="1.0"/>
<text class="b" x="613.00" y="586.70" text-anchor="start" fill="#231f20" style="font-size:8.5px;font-weight:bold;" >SID26681509</text>
<text class="b" x="667.40" y="586.70" text-anchor="start" fill="#231f20" style="font-size:8.5px;font-weight:bold;" >NS</text>
<rect x="597.40" y="594.50" width="9.40" height="3.20" fill="#c9c9c9" stroke="#bc7c62" stroke-width="1.0"/>
<text class="b" x="613.00" y="598.70" text-anchor="start" fill="#231f20" style="font-size:8.5px;font-weight:bold;" >SID26681509</text>
<text class="b" x="667.40" y="598.70" text-anchor="start" fill="#231f20" style="font-size:8.5px;font-weight:bold;" >IL33</text>
</svg>
</body></html>
